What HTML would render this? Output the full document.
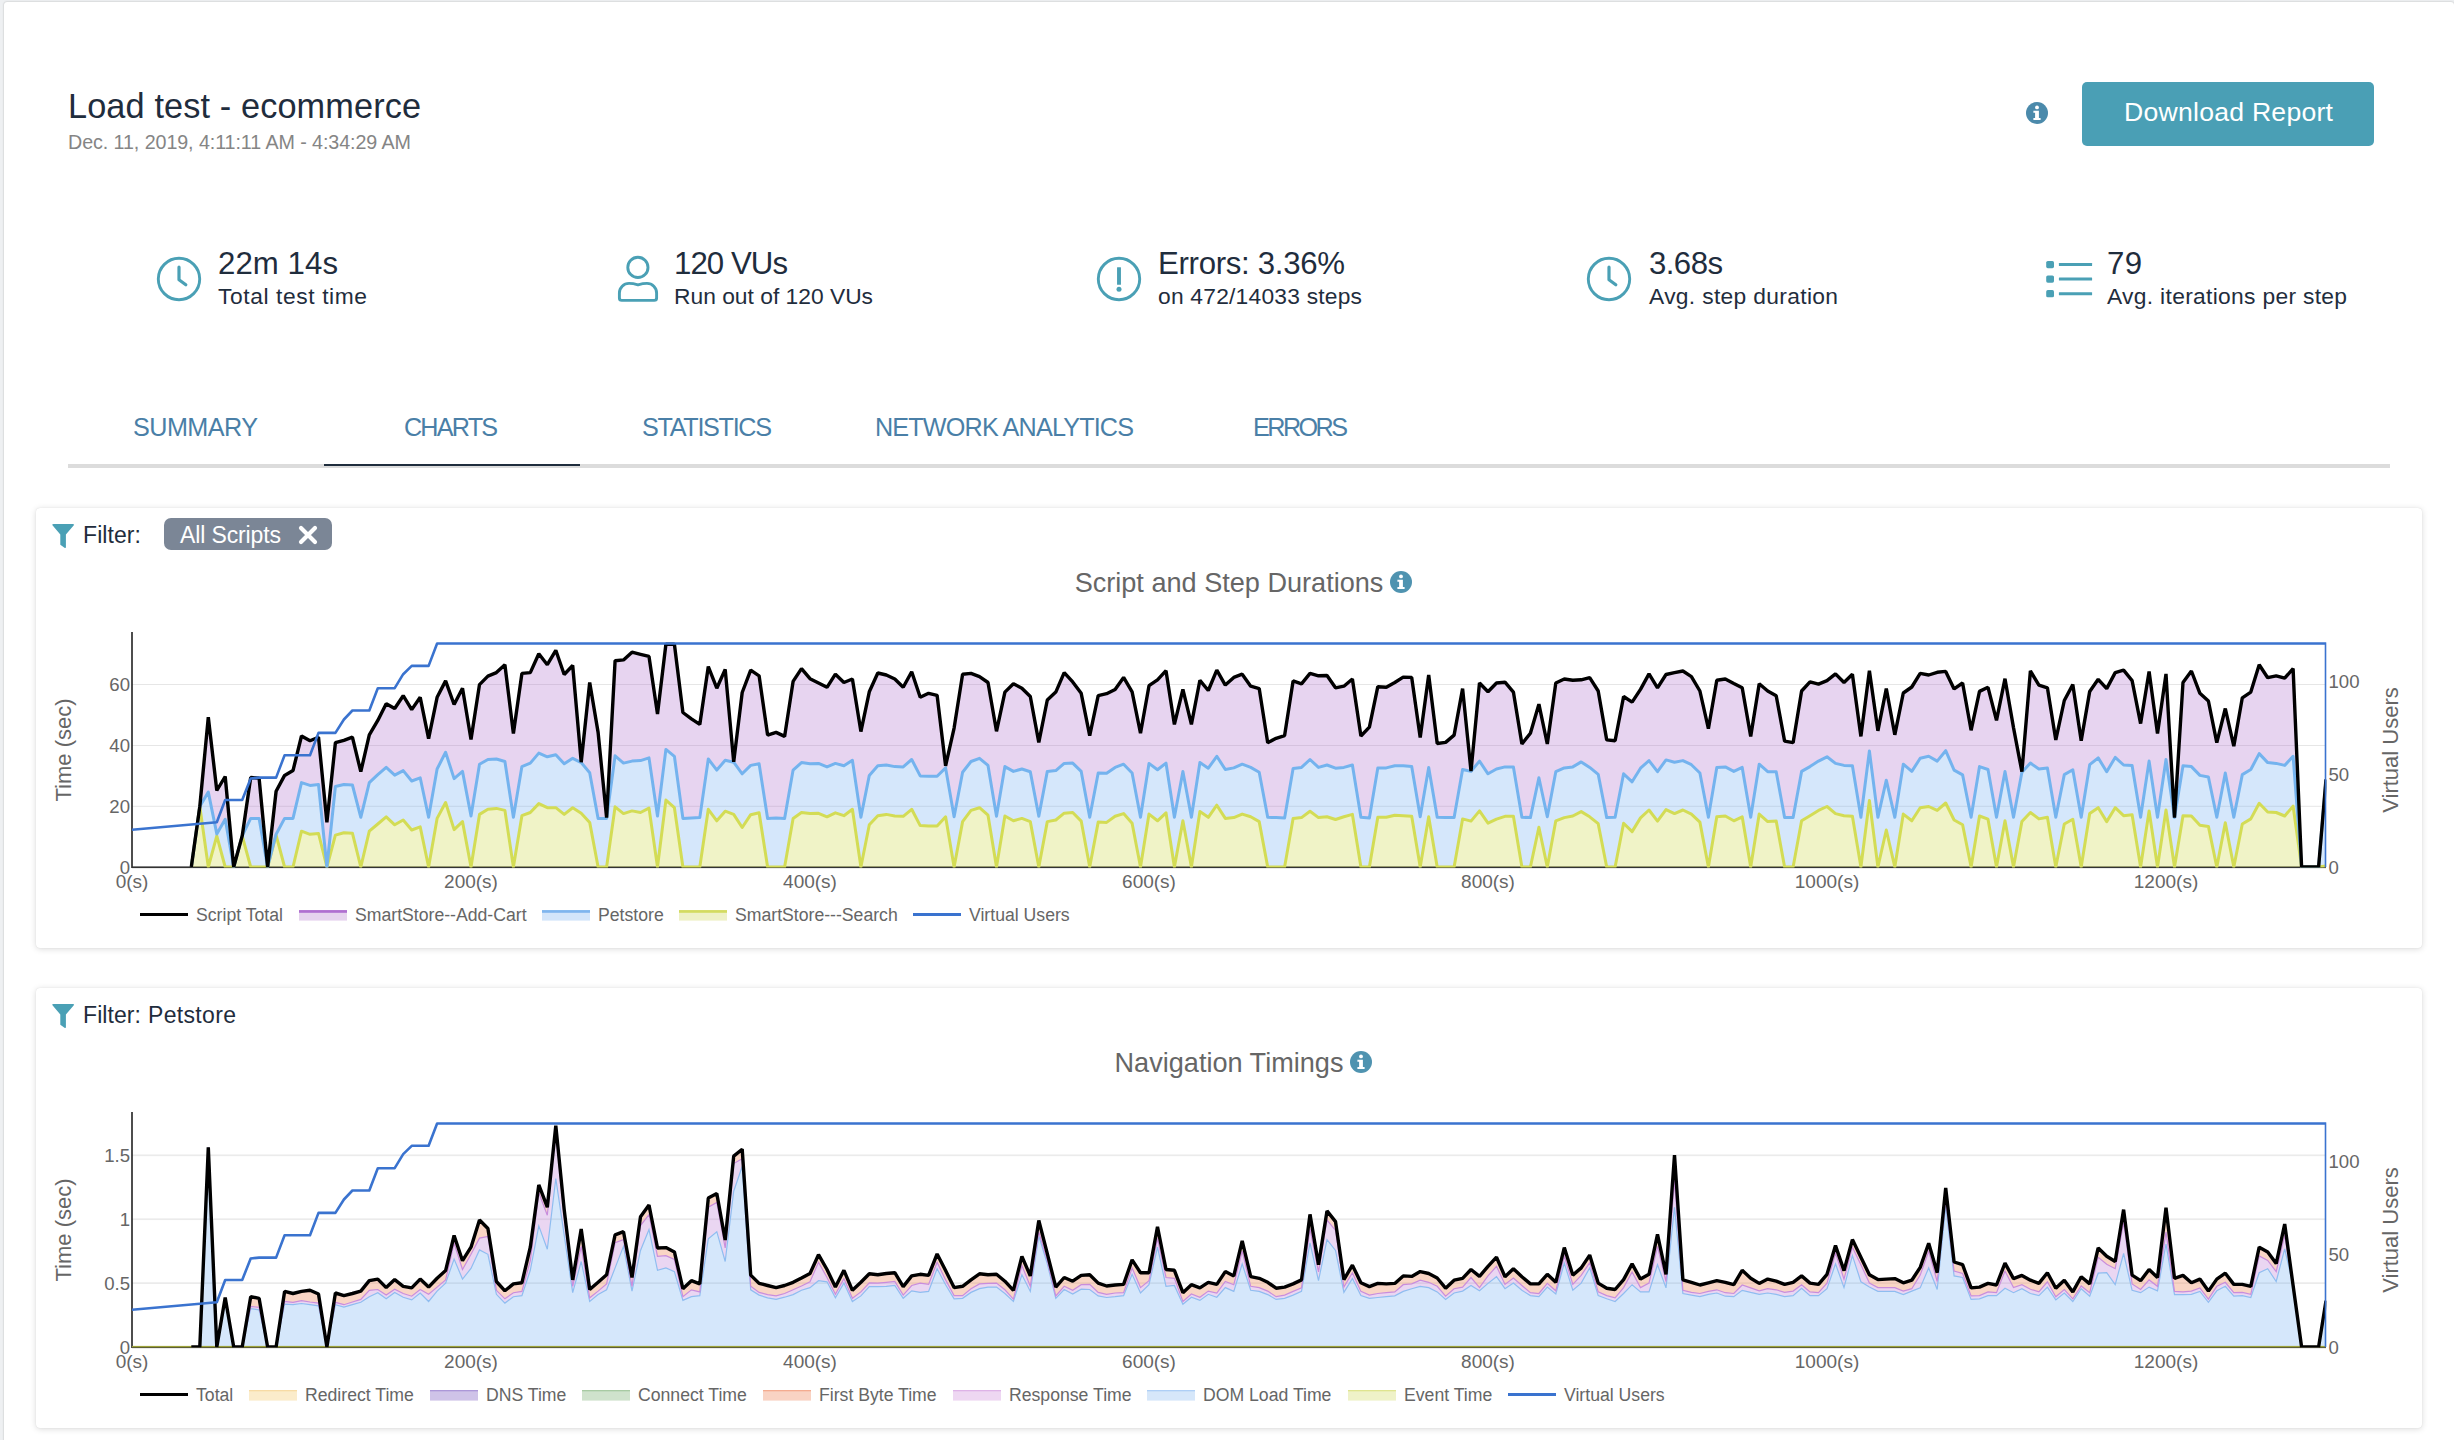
<!DOCTYPE html><html><head><meta charset="utf-8"><title>Load test - ecommerce</title><style>

html,body{margin:0;padding:0;background:#eef0f2;}
body{width:2454px;height:1440px;position:relative;overflow:hidden;font-family:"Liberation Sans",sans-serif;}
.t{position:absolute;white-space:nowrap;line-height:1;font-family:"Liberation Sans",sans-serif;}
.a{position:absolute;}
.card{position:absolute;left:36px;width:2386px;background:#fff;border-radius:4px;box-shadow:0 0 1px rgba(0,0,0,0.14),0 1px 6px rgba(0,0,0,0.15);}
.frame{position:absolute;left:4px;top:2px;right:0;bottom:-10px;background:#fff;border-radius:3px;box-shadow:0 0 2px rgba(0,0,0,0.28);}
.btn{position:absolute;left:2082px;top:82px;width:292px;height:64px;background:#4a9fb5;border-radius:5px;}
.chip{position:absolute;left:164px;top:518px;width:168px;height:32px;background:#7b8696;border-radius:7px;}
.tabline{position:absolute;left:68px;top:464px;width:2322px;height:3.5px;background:#dcdcdc;}
.tabact{position:absolute;left:324px;top:463.5px;width:256px;height:2.8px;background:#1f2d3d;}
svg text{font-family:"Liberation Sans",sans-serif;}

</style></head><body>
<div class="frame"></div>
<div id="title" class="t" style="left:68px;top:89.0px;font-size:34.3px;color:#1f2d3d;letter-spacing:0.113px;">Load test - ecommerce</div>
<div id="sub" class="t" style="left:68px;top:132.8px;font-size:19.7px;color:#858585;letter-spacing:-0.077px;">Dec. 11, 2019, 4:11:11 AM - 4:34:29 AM</div>
<svg class="a" style="left:2025px;top:101px" width="24" height="24" viewBox="-12 -12 24 24"><circle r="11" fill="#4b8aab"/><g transform="scale(1.0)" fill="#fff"><circle cx="0" cy="-5.6" r="1.9"/><path d="M-3.6 -2.2 H1.9 V5 H3.6 V7 H-3.6 V5 H-1.9 V-0.2 H-3.6 Z"/></g></svg>
<div class="btn"></div>
<div id="btn" class="t" style="left:2124px;top:98.9px;font-size:26.6px;color:#fff;letter-spacing:0.251px;">Download Report</div>
<svg class="a" style="left:153px;top:253px" width="52" height="52" viewBox="-26 -26 52 52"><circle r="20.7" fill="none" stroke="#4aa0b5" stroke-width="2.9"/><path d="M0 -11.8 V0.8 L6.8 5.8" fill="none" stroke="#4aa0b5" stroke-width="3.2" stroke-linecap="round" stroke-linejoin="round"/></svg>
<div id="sb0" class="t" style="left:218px;top:247.8px;font-size:31.2px;color:#1f2d3d;letter-spacing:0.062px;">22m 14s</div>
<div id="ss0" class="t" style="left:218px;top:285.4px;font-size:22.8px;color:#1f2d3d;letter-spacing:0.597px;">Total test time</div>
<svg class="a" style="left:611px;top:253px" width="52" height="52" viewBox="-26 -26 52 52"><circle cx="0.9" cy="-11.6" r="10.1" fill="none" stroke="#4aa0b5" stroke-width="2.9"/><path d="M-17.6 19 V14 A9.6 9.6 0 0 1 -8 4.4 Q-4 4.4 1 5.8 Q6 4.4 10 4.4 A9.6 9.6 0 0 1 19.6 14 V19 Q19.6 21.4 17.2 21.4 H-15.2 Q-17.6 21.4 -17.6 19 Z" fill="none" stroke="#4aa0b5" stroke-width="2.9" stroke-linejoin="round"/></svg>
<div id="sb1" class="t" style="left:674px;top:247.8px;font-size:31.2px;color:#1f2d3d;letter-spacing:-0.938px;">120 VUs</div>
<div id="ss1" class="t" style="left:674px;top:285.4px;font-size:22.8px;color:#1f2d3d;letter-spacing:0.002px;">Run out of 120 VUs</div>
<svg class="a" style="left:1093px;top:253px" width="52" height="52" viewBox="-26 -26 52 52"><circle r="20.7" fill="none" stroke="#4aa0b5" stroke-width="2.9"/><rect x="-1.95" y="-11.8" width="3.9" height="17.6" rx="0.4" fill="#4aa0b5"/><circle cx="0" cy="10.2" r="2.5" fill="#4aa0b5"/></svg>
<div id="sb2" class="t" style="left:1158px;top:247.8px;font-size:31.2px;color:#1f2d3d;letter-spacing:-0.306px;">Errors: 3.36%</div>
<div id="ss2" class="t" style="left:1158px;top:285.4px;font-size:22.8px;color:#1f2d3d;letter-spacing:0.219px;">on 472/14033 steps</div>
<svg class="a" style="left:1583px;top:253px" width="52" height="52" viewBox="-26 -26 52 52"><circle r="20.7" fill="none" stroke="#4aa0b5" stroke-width="2.9"/><path d="M0 -11.8 V0.8 L6.8 5.8" fill="none" stroke="#4aa0b5" stroke-width="3.2" stroke-linecap="round" stroke-linejoin="round"/></svg>
<div id="sb3" class="t" style="left:1649px;top:247.8px;font-size:31.2px;color:#1f2d3d;letter-spacing:-0.574px;">3.68s</div>
<div id="ss3" class="t" style="left:1649px;top:285.4px;font-size:22.8px;color:#1f2d3d;letter-spacing:0.333px;">Avg. step duration</div>
<svg class="a" style="left:2043px;top:253px" width="52" height="52" viewBox="-26 -26 52 52"><rect x="-22.8" y="-18.0" width="7.8" height="7.2" rx="1.6" fill="#4aa0b5"/><rect x="-10.1" y="-15.9" width="33.2" height="3" rx="0.5" fill="#4aa0b5"/><rect x="-22.8" y="-3.5" width="7.8" height="7.2" rx="1.6" fill="#4aa0b5"/><rect x="-10.1" y="-1.4" width="33.2" height="3" rx="0.5" fill="#4aa0b5"/><rect x="-22.8" y="11.1" width="7.8" height="7.2" rx="1.6" fill="#4aa0b5"/><rect x="-10.1" y="13.2" width="33.2" height="3" rx="0.5" fill="#4aa0b5"/></svg>
<div id="sb4" class="t" style="left:2107px;top:247.8px;font-size:31.2px;color:#1f2d3d;letter-spacing:0.297px;">79</div>
<div id="ss4" class="t" style="left:2107px;top:285.4px;font-size:22.8px;color:#1f2d3d;letter-spacing:0.315px;">Avg. iterations per step</div>
<div id="tab0" class="t" style="left:133px;top:415.1px;font-size:25.2px;color:#4a7fa7;letter-spacing:-0.549px;">SUMMARY</div>
<div id="tab1" class="t" style="left:404px;top:415.1px;font-size:25.2px;color:#4a7fa7;letter-spacing:-1.822px;">CHARTS</div>
<div id="tab2" class="t" style="left:642px;top:415.1px;font-size:25.2px;color:#4a7fa7;letter-spacing:-1.312px;">STATISTICS</div>
<div id="tab3" class="t" style="left:875px;top:415.1px;font-size:25.2px;color:#4a7fa7;letter-spacing:-0.840px;">NETWORK ANALYTICS</div>
<div id="tab4" class="t" style="left:1253px;top:415.1px;font-size:25.2px;color:#4a7fa7;letter-spacing:-2.553px;">ERRORS</div>
<div class="tabline"></div><div class="tabact"></div>
<div class="card" style="top:508px;height:440px"></div>
<div class="card" style="top:988px;height:440px"></div>
<svg class="a" style="left:51.9px;top:523.8px;overflow:visible" width="24" height="26" viewBox="0 0 24 26"><path d="M1.5 0 H20.8 Q22.9 0 21.6 1.6 L13.9 10.4 V23 Q13.9 24.7 12.5 23.7 L8.3 20.8 V10.4 L0.7 1.6 Q-0.6 0 1.5 0 Z" fill="#4aa0b5"/></svg>
<div id="f1" class="t" style="left:83px;top:523.5px;font-size:23px;color:#1f2d3d;letter-spacing:0.083px;">Filter:</div>
<div class="chip"></div>
<div id="chip" class="t" style="left:180px;top:523.5px;font-size:23px;color:#fff;letter-spacing:-0.125px;">All Scripts</div>
<svg class="a" style="left:297px;top:524px" width="22" height="22" viewBox="-11 -11 22 22"><path d="M-7 -7 L7 7 M7 -7 L-7 7" stroke="#fff" stroke-width="4.2" stroke-linecap="round"/></svg>
<svg class="a" style="left:51.9px;top:1003.8px;overflow:visible" width="24" height="26" viewBox="0 0 24 26"><path d="M1.5 0 H20.8 Q22.9 0 21.6 1.6 L13.9 10.4 V23 Q13.9 24.7 12.5 23.7 L8.3 20.8 V10.4 L0.7 1.6 Q-0.6 0 1.5 0 Z" fill="#4aa0b5"/></svg>
<div id="f2" class="t" style="left:83px;top:1003.5px;font-size:23px;color:#1f2d3d;letter-spacing:0.083px;">Filter:</div>
<div id="f2b" class="t" style="left:148px;top:1003.5px;font-size:23px;color:#1f2d3d;letter-spacing:0.335px;">Petstore</div>
<svg class="a" style="left:0;top:500px" width="2454" height="460" viewBox="0 500 2454 460"><text x="1229" y="592" font-size="27.1" fill="#666" text-anchor="middle">Script and Step Durations</text><rect x="132.0" y="684.0" width="2194.0" height="1.0" fill="#e6e6e6"/><rect x="132.0" y="745.0" width="2194.0" height="1.0" fill="#e6e6e6"/><rect x="132.0" y="805.8" width="2194.0" height="1.0" fill="#e6e6e6"/><rect x="131.2" y="632" width="1.6" height="236.0" fill="#222"/><rect x="132.0" y="866.4" width="2194.0" height="1.7" fill="#333"/><clipPath id="cp1"><rect x="132.0" y="620" width="2194.3" height="247.60000000000002"/></clipPath><g clip-path="url(#cp1)"><polygon points="191.3,867.0 199.8,806.5 208.3,717.2 216.8,790.5 225.2,776.5 233.7,867.0 242.2,835.9 250.7,777.5 259.1,778.1 267.6,867.0 276.1,791.3 284.6,775.4 293.0,770.6 301.5,736.0 310.0,740.8 318.5,737.2 326.9,822.4 335.4,742.7 343.9,740.3 352.4,737.2 360.8,771.7 369.3,734.8 377.8,720.4 386.2,703.7 394.7,708.5 403.2,695.7 411.7,709.6 420.2,697.3 428.6,738.7 437.1,697.3 445.6,680.9 454.1,704.5 462.5,688.2 471.0,739.5 479.5,684.6 487.9,676.1 496.4,672.6 504.9,664.7 513.4,733.5 521.9,673.4 530.3,672.6 538.8,653.8 547.3,664.7 555.8,650.3 564.2,674.5 572.7,665.5 581.2,762.2 589.7,682.5 598.1,732.4 606.6,817.6 615.1,660.7 623.5,659.9 632.0,652.2 640.5,654.3 649.0,656.4 657.5,714.1 665.9,644.3 674.4,644.3 682.9,712.5 691.4,718.8 699.8,724.4 708.3,666.6 716.8,688.2 725.2,669.4 733.7,761.9 742.2,692.5 750.7,670.2 759.1,675.8 767.6,735.1 776.1,732.4 784.6,736.4 793.1,681.4 801.5,668.6 810.0,678.7 818.5,683.0 827.0,687.3 835.4,674.2 843.9,682.5 852.4,679.0 860.9,731.6 869.3,691.8 877.8,673.0 886.3,675.0 894.8,679.0 903.2,687.3 911.7,671.8 920.2,697.3 928.6,693.3 937.1,695.3 945.6,765.8 954.1,728.1 962.6,674.2 971.0,673.4 979.5,676.6 988.0,682.5 996.5,731.3 1004.9,692.1 1013.4,683.8 1021.9,688.2 1030.3,696.5 1038.8,742.4 1047.3,700.0 1055.8,692.1 1064.2,672.6 1072.7,681.9 1081.2,693.3 1089.7,735.6 1098.2,695.7 1106.6,693.7 1115.1,689.4 1123.6,677.4 1132.1,691.8 1140.5,733.2 1149.0,685.7 1157.5,679.8 1166.0,670.7 1174.4,724.4 1182.9,689.4 1191.4,724.4 1199.9,680.3 1208.3,690.5 1216.8,670.2 1225.3,685.1 1233.8,677.4 1242.2,674.2 1250.7,686.2 1259.2,688.6 1267.7,742.7 1276.1,738.3 1284.6,735.6 1293.1,680.9 1301.5,683.8 1310.0,673.4 1318.5,675.8 1327.0,675.5 1335.5,687.8 1343.9,686.2 1352.4,679.0 1360.9,736.0 1369.4,727.1 1377.8,686.7 1386.3,687.3 1394.8,682.5 1403.2,677.1 1411.7,677.4 1420.2,737.6 1428.7,675.0 1437.2,743.5 1445.6,742.4 1454.1,735.1 1462.6,688.6 1471.0,771.1 1479.5,683.0 1488.0,691.8 1496.5,683.0 1505.0,682.2 1513.4,692.1 1521.9,744.0 1530.4,733.2 1538.9,704.2 1547.3,744.0 1555.8,683.0 1564.3,679.0 1572.8,680.3 1581.2,679.8 1589.7,677.7 1598.2,691.0 1606.7,739.9 1615.1,740.8 1623.6,696.5 1632.1,702.1 1640.5,689.4 1649.0,673.9 1657.5,687.8 1666.0,674.5 1674.5,672.6 1682.9,671.0 1691.4,676.6 1699.9,691.0 1708.4,728.7 1716.8,680.3 1725.3,679.0 1733.8,683.5 1742.2,687.8 1750.7,736.4 1759.2,683.8 1767.7,691.0 1776.2,695.7 1784.6,741.1 1793.1,742.7 1801.6,691.0 1810.0,681.9 1818.5,684.1 1827.0,680.6 1835.5,673.9 1844.0,682.5 1852.4,674.2 1860.9,736.4 1869.4,670.7 1877.9,730.8 1886.3,688.6 1894.8,734.8 1903.3,693.0 1911.8,687.0 1920.2,673.4 1928.7,675.0 1937.2,672.3 1945.7,671.4 1954.1,688.9 1962.6,683.0 1971.1,730.3 1979.5,691.4 1988.0,687.3 1996.5,720.4 2005.0,678.7 2013.5,727.6 2021.9,771.7 2030.4,671.0 2038.9,685.1 2047.4,687.8 2055.8,739.9 2064.3,700.5 2072.8,684.6 2081.2,740.8 2089.7,691.4 2098.2,679.3 2106.7,688.6 2115.2,672.6 2123.6,670.2 2132.1,680.6 2140.6,723.6 2149.1,671.4 2157.5,733.5 2166.0,673.9 2174.5,817.6 2183.0,682.5 2191.4,671.0 2199.9,693.3 2208.4,701.0 2216.8,742.7 2225.3,708.5 2233.8,746.2 2242.3,697.8 2250.8,692.1 2259.2,664.7 2267.7,677.7 2276.2,675.8 2284.7,678.2 2293.1,668.6 2301.6,867.0 2310.1,867.0 2318.6,867.0 2326.0,779.4 2326.0,779.7 2318.6,867.0 2310.1,867.0 2301.6,867.0 2293.1,756.3 2284.7,765.4 2276.2,763.4 2267.7,762.6 2259.2,753.6 2250.8,769.5 2242.3,774.6 2233.8,817.3 2225.3,773.0 2216.8,817.3 2208.4,777.0 2199.9,775.4 2191.4,766.6 2183.0,765.8 2174.5,817.6 2166.0,759.5 2157.5,817.3 2149.1,761.1 2140.6,817.3 2132.1,765.4 2123.6,765.0 2115.2,757.4 2106.7,771.7 2098.2,757.9 2089.7,764.7 2081.2,817.3 2072.8,769.8 2064.3,774.6 2055.8,817.3 2047.4,767.9 2038.9,769.0 2030.4,763.1 2021.9,772.2 2013.5,817.3 2005.0,771.4 1996.5,817.3 1988.0,769.5 1979.5,766.6 1971.1,817.3 1962.6,774.9 1954.1,770.1 1945.7,750.7 1937.2,761.1 1928.7,756.3 1920.2,758.3 1911.8,771.4 1903.3,764.2 1894.8,817.3 1886.3,780.2 1877.9,817.3 1869.4,751.0 1860.9,817.3 1852.4,765.8 1844.0,765.4 1835.5,763.4 1827.0,756.8 1818.5,761.1 1810.0,766.6 1801.6,771.4 1793.1,817.6 1784.6,817.6 1776.2,771.7 1767.7,771.7 1759.2,764.2 1750.7,817.3 1742.2,767.4 1733.8,771.4 1725.3,766.9 1716.8,767.4 1708.4,817.3 1699.9,773.0 1691.4,764.7 1682.9,760.6 1674.5,762.2 1666.0,759.9 1657.5,771.7 1649.0,760.6 1640.5,768.2 1632.1,781.8 1623.6,773.8 1615.1,817.3 1606.7,817.6 1598.2,774.3 1589.7,767.4 1581.2,761.9 1572.8,766.9 1564.3,767.9 1555.8,771.7 1547.3,816.8 1538.9,777.8 1530.4,817.6 1521.9,817.3 1513.4,766.9 1505.0,766.9 1496.5,769.0 1488.0,773.8 1479.5,761.1 1471.0,771.4 1462.6,769.5 1454.1,817.6 1445.6,817.6 1437.2,817.3 1428.7,767.4 1420.2,816.8 1411.7,766.6 1403.2,765.8 1394.8,765.8 1386.3,767.9 1377.8,767.9 1369.4,817.9 1360.9,817.3 1352.4,765.0 1343.9,767.4 1335.5,768.2 1327.0,765.0 1318.5,767.4 1310.0,759.5 1301.5,767.4 1293.1,768.5 1284.6,817.9 1276.1,817.6 1267.7,817.3 1259.2,772.2 1250.7,767.4 1242.2,764.2 1233.8,767.9 1225.3,769.5 1216.8,756.3 1208.3,768.2 1199.9,762.6 1191.4,817.3 1182.9,771.4 1174.4,817.3 1166.0,763.1 1157.5,769.8 1149.0,763.4 1140.5,817.3 1132.1,773.0 1123.6,764.2 1115.1,767.4 1106.6,773.3 1098.2,773.0 1089.7,817.3 1081.2,771.4 1072.7,763.1 1064.2,763.4 1055.8,770.6 1047.3,771.4 1038.8,816.3 1030.3,771.7 1021.9,769.0 1013.4,771.4 1004.9,766.6 996.5,816.3 988.0,765.4 979.5,758.3 971.0,761.5 962.6,772.2 954.1,816.8 945.6,767.9 937.1,776.2 928.6,776.2 920.2,775.9 911.7,759.5 903.2,766.9 894.8,766.6 886.3,765.0 877.8,765.8 869.3,775.4 860.9,817.3 852.4,760.3 843.9,765.8 835.4,763.4 827.0,766.9 818.5,763.4 810.0,763.8 801.5,762.6 793.1,770.1 784.6,818.4 776.1,817.9 767.6,818.4 759.1,763.8 750.7,765.4 742.2,773.8 733.7,762.2 725.2,760.3 716.8,770.1 708.3,759.0 699.8,817.6 691.4,817.9 682.9,818.4 674.4,756.3 665.9,749.4 657.5,816.0 649.0,757.9 640.5,760.6 632.0,761.1 623.5,763.1 615.1,755.8 606.6,818.4 598.1,818.4 589.7,772.7 581.2,762.6 572.7,758.3 564.2,763.8 555.8,754.7 547.3,756.8 538.8,753.1 530.3,763.1 521.9,766.6 513.4,817.3 504.9,761.5 496.4,759.0 487.9,759.5 479.5,764.2 471.0,816.0 462.5,771.4 454.1,778.6 445.6,752.3 437.1,769.0 428.6,817.3 420.2,777.8 411.7,781.0 403.2,770.6 394.7,775.1 386.2,767.4 377.8,774.6 369.3,782.6 360.8,817.3 352.4,785.0 343.9,784.5 335.4,786.5 326.9,867.0 318.5,784.6 310.0,785.4 301.5,782.6 293.0,818.4 284.6,818.4 276.1,834.2 267.6,867.0 259.1,818.4 250.7,818.4 242.2,835.9 233.7,867.0 225.2,819.2 216.8,833.9 208.3,792.1 199.8,806.5 191.3,867.0" fill="rgba(170,100,200,0.28)"/><polygon points="191.3,867.0 199.8,806.5 208.3,792.1 216.8,833.9 225.2,819.2 233.7,867.0 242.2,835.9 250.7,818.4 259.1,818.4 267.6,867.0 276.1,834.2 284.6,818.4 293.0,818.4 301.5,782.6 310.0,785.4 318.5,784.6 326.9,867.0 335.4,786.5 343.9,784.5 352.4,785.0 360.8,817.3 369.3,782.6 377.8,774.6 386.2,767.4 394.7,775.1 403.2,770.6 411.7,781.0 420.2,777.8 428.6,817.3 437.1,769.0 445.6,752.3 454.1,778.6 462.5,771.4 471.0,816.0 479.5,764.2 487.9,759.5 496.4,759.0 504.9,761.5 513.4,817.3 521.9,766.6 530.3,763.1 538.8,753.1 547.3,756.8 555.8,754.7 564.2,763.8 572.7,758.3 581.2,762.6 589.7,772.7 598.1,818.4 606.6,818.4 615.1,755.8 623.5,763.1 632.0,761.1 640.5,760.6 649.0,757.9 657.5,816.0 665.9,749.4 674.4,756.3 682.9,818.4 691.4,817.9 699.8,817.6 708.3,759.0 716.8,770.1 725.2,760.3 733.7,762.2 742.2,773.8 750.7,765.4 759.1,763.8 767.6,818.4 776.1,817.9 784.6,818.4 793.1,770.1 801.5,762.6 810.0,763.8 818.5,763.4 827.0,766.9 835.4,763.4 843.9,765.8 852.4,760.3 860.9,817.3 869.3,775.4 877.8,765.8 886.3,765.0 894.8,766.6 903.2,766.9 911.7,759.5 920.2,775.9 928.6,776.2 937.1,776.2 945.6,767.9 954.1,816.8 962.6,772.2 971.0,761.5 979.5,758.3 988.0,765.4 996.5,816.3 1004.9,766.6 1013.4,771.4 1021.9,769.0 1030.3,771.7 1038.8,816.3 1047.3,771.4 1055.8,770.6 1064.2,763.4 1072.7,763.1 1081.2,771.4 1089.7,817.3 1098.2,773.0 1106.6,773.3 1115.1,767.4 1123.6,764.2 1132.1,773.0 1140.5,817.3 1149.0,763.4 1157.5,769.8 1166.0,763.1 1174.4,817.3 1182.9,771.4 1191.4,817.3 1199.9,762.6 1208.3,768.2 1216.8,756.3 1225.3,769.5 1233.8,767.9 1242.2,764.2 1250.7,767.4 1259.2,772.2 1267.7,817.3 1276.1,817.6 1284.6,817.9 1293.1,768.5 1301.5,767.4 1310.0,759.5 1318.5,767.4 1327.0,765.0 1335.5,768.2 1343.9,767.4 1352.4,765.0 1360.9,817.3 1369.4,817.9 1377.8,767.9 1386.3,767.9 1394.8,765.8 1403.2,765.8 1411.7,766.6 1420.2,816.8 1428.7,767.4 1437.2,817.3 1445.6,817.6 1454.1,817.6 1462.6,769.5 1471.0,771.4 1479.5,761.1 1488.0,773.8 1496.5,769.0 1505.0,766.9 1513.4,766.9 1521.9,817.3 1530.4,817.6 1538.9,777.8 1547.3,816.8 1555.8,771.7 1564.3,767.9 1572.8,766.9 1581.2,761.9 1589.7,767.4 1598.2,774.3 1606.7,817.6 1615.1,817.3 1623.6,773.8 1632.1,781.8 1640.5,768.2 1649.0,760.6 1657.5,771.7 1666.0,759.9 1674.5,762.2 1682.9,760.6 1691.4,764.7 1699.9,773.0 1708.4,817.3 1716.8,767.4 1725.3,766.9 1733.8,771.4 1742.2,767.4 1750.7,817.3 1759.2,764.2 1767.7,771.7 1776.2,771.7 1784.6,817.6 1793.1,817.6 1801.6,771.4 1810.0,766.6 1818.5,761.1 1827.0,756.8 1835.5,763.4 1844.0,765.4 1852.4,765.8 1860.9,817.3 1869.4,751.0 1877.9,817.3 1886.3,780.2 1894.8,817.3 1903.3,764.2 1911.8,771.4 1920.2,758.3 1928.7,756.3 1937.2,761.1 1945.7,750.7 1954.1,770.1 1962.6,774.9 1971.1,817.3 1979.5,766.6 1988.0,769.5 1996.5,817.3 2005.0,771.4 2013.5,817.3 2021.9,772.2 2030.4,763.1 2038.9,769.0 2047.4,767.9 2055.8,817.3 2064.3,774.6 2072.8,769.8 2081.2,817.3 2089.7,764.7 2098.2,757.9 2106.7,771.7 2115.2,757.4 2123.6,765.0 2132.1,765.4 2140.6,817.3 2149.1,761.1 2157.5,817.3 2166.0,759.5 2174.5,817.6 2183.0,765.8 2191.4,766.6 2199.9,775.4 2208.4,777.0 2216.8,817.3 2225.3,773.0 2233.8,817.3 2242.3,774.6 2250.8,769.5 2259.2,753.6 2267.7,762.6 2276.2,763.4 2284.7,765.4 2293.1,756.3 2301.6,867.0 2310.1,867.0 2318.6,867.0 2326.0,779.7 2326.0,866.0 2318.6,867.0 2310.1,867.0 2301.6,867.0 2293.1,806.1 2284.7,816.0 2276.2,812.5 2267.7,812.0 2259.2,803.3 2250.8,818.9 2242.3,824.0 2233.8,867.0 2225.3,822.7 2216.8,867.0 2208.4,826.4 2199.9,825.3 2191.4,816.0 2183.0,815.7 2174.5,867.0 2166.0,810.0 2157.5,867.0 2149.1,810.9 2140.6,867.0 2132.1,814.7 2123.6,815.7 2115.2,807.7 2106.7,821.6 2098.2,807.7 2089.7,813.6 2081.2,867.0 2072.8,819.2 2064.3,824.0 2055.8,867.0 2047.4,817.3 2038.9,818.9 2030.4,812.5 2021.9,821.6 2013.5,867.0 2005.0,820.8 1996.5,867.0 1988.0,819.2 1979.5,816.0 1971.1,867.0 1962.6,824.8 1954.1,820.0 1945.7,803.0 1937.2,810.4 1928.7,806.5 1920.2,807.7 1911.8,820.8 1903.3,814.1 1894.8,867.0 1886.3,830.0 1877.9,867.0 1869.4,800.4 1860.9,867.0 1852.4,816.3 1844.0,815.7 1835.5,813.6 1827.0,806.5 1818.5,810.4 1810.0,815.7 1801.6,820.8 1793.1,867.0 1784.6,867.0 1776.2,821.1 1767.7,821.6 1759.2,814.1 1750.7,867.0 1742.2,816.8 1733.8,820.8 1725.3,816.0 1716.8,816.8 1708.4,867.0 1699.9,822.1 1691.4,814.1 1682.9,810.0 1674.5,813.6 1666.0,809.6 1657.5,821.1 1649.0,810.0 1640.5,817.9 1632.1,831.6 1623.6,823.2 1615.1,867.0 1606.7,867.0 1598.2,823.7 1589.7,816.8 1581.2,811.6 1572.8,816.0 1564.3,817.6 1555.8,820.8 1547.3,867.0 1538.9,827.2 1530.4,867.0 1521.9,867.0 1513.4,816.3 1505.0,816.3 1496.5,819.2 1488.0,823.2 1479.5,810.9 1471.0,821.1 1462.6,818.9 1454.1,867.0 1445.6,867.0 1437.2,867.0 1428.7,816.8 1420.2,867.0 1411.7,816.3 1403.2,815.7 1394.8,815.2 1386.3,817.3 1377.8,817.3 1369.4,867.0 1360.9,867.0 1352.4,814.4 1343.9,816.8 1335.5,819.5 1327.0,816.8 1318.5,817.6 1310.0,811.2 1301.5,817.6 1293.1,818.4 1284.6,867.0 1276.1,867.0 1267.7,867.0 1259.2,821.6 1250.7,816.8 1242.2,814.1 1233.8,817.6 1225.3,818.4 1216.8,805.2 1208.3,817.3 1199.9,811.6 1191.4,867.0 1182.9,820.8 1174.4,867.0 1166.0,812.8 1157.5,820.8 1149.0,814.1 1140.5,867.0 1132.1,823.2 1123.6,813.6 1115.1,816.3 1106.6,822.4 1098.2,822.1 1089.7,867.0 1081.2,821.1 1072.7,812.5 1064.2,813.2 1055.8,820.0 1047.3,821.6 1038.8,867.0 1030.3,821.6 1021.9,818.4 1013.4,820.8 1004.9,816.0 996.5,867.0 988.0,815.2 979.5,807.7 971.0,810.4 962.6,821.6 954.1,867.0 945.6,816.8 937.1,825.9 928.6,825.9 920.2,825.6 911.7,809.3 903.2,816.3 894.8,816.0 886.3,814.4 877.8,815.7 869.3,824.8 860.9,867.0 852.4,809.3 843.9,815.7 835.4,812.8 827.0,816.8 818.5,813.3 810.0,813.6 801.5,812.5 793.1,818.4 784.6,867.0 776.1,867.0 767.6,867.0 759.1,812.8 750.7,814.7 742.2,827.5 733.7,814.4 725.2,811.2 716.8,820.8 708.3,809.3 699.8,867.0 691.4,867.0 682.9,867.0 674.4,807.7 665.9,800.1 657.5,867.0 649.0,808.1 640.5,812.5 632.0,810.9 623.5,813.6 615.1,806.8 606.6,867.0 598.1,867.0 589.7,822.4 581.2,813.2 572.7,807.7 564.2,814.4 555.8,807.7 547.3,807.7 538.8,803.6 530.3,812.5 521.9,815.7 513.4,867.0 504.9,810.4 496.4,808.4 487.9,809.3 479.5,814.4 471.0,867.0 462.5,821.6 454.1,829.6 445.6,802.5 437.1,818.4 428.6,867.0 420.2,826.9 411.7,830.0 403.2,820.0 394.7,824.8 386.2,816.8 377.8,824.0 369.3,831.2 360.8,867.0 352.4,833.2 343.9,832.7 335.4,835.1 326.9,867.0 318.5,833.5 310.0,834.3 301.5,831.2 293.0,867.0 284.6,867.0 276.1,835.1 267.6,867.0 259.1,867.0 250.7,867.0 242.2,835.9 233.7,867.0 225.2,867.0 216.8,835.9 208.3,867.0 199.8,806.5 191.3,867.0" fill="rgba(100,165,240,0.27)"/><polygon points="191.3,867.0 199.8,806.5 208.3,867.0 216.8,835.9 225.2,867.0 233.7,867.0 242.2,835.9 250.7,867.0 259.1,867.0 267.6,867.0 276.1,835.1 284.6,867.0 293.0,867.0 301.5,831.2 310.0,834.3 318.5,833.5 326.9,867.0 335.4,835.1 343.9,832.7 352.4,833.2 360.8,867.0 369.3,831.2 377.8,824.0 386.2,816.8 394.7,824.8 403.2,820.0 411.7,830.0 420.2,826.9 428.6,867.0 437.1,818.4 445.6,802.5 454.1,829.6 462.5,821.6 471.0,867.0 479.5,814.4 487.9,809.3 496.4,808.4 504.9,810.4 513.4,867.0 521.9,815.7 530.3,812.5 538.8,803.6 547.3,807.7 555.8,807.7 564.2,814.4 572.7,807.7 581.2,813.2 589.7,822.4 598.1,867.0 606.6,867.0 615.1,806.8 623.5,813.6 632.0,810.9 640.5,812.5 649.0,808.1 657.5,867.0 665.9,800.1 674.4,807.7 682.9,867.0 691.4,867.0 699.8,867.0 708.3,809.3 716.8,820.8 725.2,811.2 733.7,814.4 742.2,827.5 750.7,814.7 759.1,812.8 767.6,867.0 776.1,867.0 784.6,867.0 793.1,818.4 801.5,812.5 810.0,813.6 818.5,813.3 827.0,816.8 835.4,812.8 843.9,815.7 852.4,809.3 860.9,867.0 869.3,824.8 877.8,815.7 886.3,814.4 894.8,816.0 903.2,816.3 911.7,809.3 920.2,825.6 928.6,825.9 937.1,825.9 945.6,816.8 954.1,867.0 962.6,821.6 971.0,810.4 979.5,807.7 988.0,815.2 996.5,867.0 1004.9,816.0 1013.4,820.8 1021.9,818.4 1030.3,821.6 1038.8,867.0 1047.3,821.6 1055.8,820.0 1064.2,813.2 1072.7,812.5 1081.2,821.1 1089.7,867.0 1098.2,822.1 1106.6,822.4 1115.1,816.3 1123.6,813.6 1132.1,823.2 1140.5,867.0 1149.0,814.1 1157.5,820.8 1166.0,812.8 1174.4,867.0 1182.9,820.8 1191.4,867.0 1199.9,811.6 1208.3,817.3 1216.8,805.2 1225.3,818.4 1233.8,817.6 1242.2,814.1 1250.7,816.8 1259.2,821.6 1267.7,867.0 1276.1,867.0 1284.6,867.0 1293.1,818.4 1301.5,817.6 1310.0,811.2 1318.5,817.6 1327.0,816.8 1335.5,819.5 1343.9,816.8 1352.4,814.4 1360.9,867.0 1369.4,867.0 1377.8,817.3 1386.3,817.3 1394.8,815.2 1403.2,815.7 1411.7,816.3 1420.2,867.0 1428.7,816.8 1437.2,867.0 1445.6,867.0 1454.1,867.0 1462.6,818.9 1471.0,821.1 1479.5,810.9 1488.0,823.2 1496.5,819.2 1505.0,816.3 1513.4,816.3 1521.9,867.0 1530.4,867.0 1538.9,827.2 1547.3,867.0 1555.8,820.8 1564.3,817.6 1572.8,816.0 1581.2,811.6 1589.7,816.8 1598.2,823.7 1606.7,867.0 1615.1,867.0 1623.6,823.2 1632.1,831.6 1640.5,817.9 1649.0,810.0 1657.5,821.1 1666.0,809.6 1674.5,813.6 1682.9,810.0 1691.4,814.1 1699.9,822.1 1708.4,867.0 1716.8,816.8 1725.3,816.0 1733.8,820.8 1742.2,816.8 1750.7,867.0 1759.2,814.1 1767.7,821.6 1776.2,821.1 1784.6,867.0 1793.1,867.0 1801.6,820.8 1810.0,815.7 1818.5,810.4 1827.0,806.5 1835.5,813.6 1844.0,815.7 1852.4,816.3 1860.9,867.0 1869.4,800.4 1877.9,867.0 1886.3,830.0 1894.8,867.0 1903.3,814.1 1911.8,820.8 1920.2,807.7 1928.7,806.5 1937.2,810.4 1945.7,803.0 1954.1,820.0 1962.6,824.8 1971.1,867.0 1979.5,816.0 1988.0,819.2 1996.5,867.0 2005.0,820.8 2013.5,867.0 2021.9,821.6 2030.4,812.5 2038.9,818.9 2047.4,817.3 2055.8,867.0 2064.3,824.0 2072.8,819.2 2081.2,867.0 2089.7,813.6 2098.2,807.7 2106.7,821.6 2115.2,807.7 2123.6,815.7 2132.1,814.7 2140.6,867.0 2149.1,810.9 2157.5,867.0 2166.0,810.0 2174.5,867.0 2183.0,815.7 2191.4,816.0 2199.9,825.3 2208.4,826.4 2216.8,867.0 2225.3,822.7 2233.8,867.0 2242.3,824.0 2250.8,818.9 2259.2,803.3 2267.7,812.0 2276.2,812.5 2284.7,816.0 2293.1,806.1 2301.6,867.0 2310.1,867.0 2318.6,867.0 2326.0,866.0 2326.0,867.0 2318.6,867.0 2310.1,867.0 2301.6,867.0 2293.1,867.0 2284.7,867.0 2276.2,867.0 2267.7,867.0 2259.2,867.0 2250.8,867.0 2242.3,867.0 2233.8,867.0 2225.3,867.0 2216.8,867.0 2208.4,867.0 2199.9,867.0 2191.4,867.0 2183.0,867.0 2174.5,867.0 2166.0,867.0 2157.5,867.0 2149.1,867.0 2140.6,867.0 2132.1,867.0 2123.6,867.0 2115.2,867.0 2106.7,867.0 2098.2,867.0 2089.7,867.0 2081.2,867.0 2072.8,867.0 2064.3,867.0 2055.8,867.0 2047.4,867.0 2038.9,867.0 2030.4,867.0 2021.9,867.0 2013.5,867.0 2005.0,867.0 1996.5,867.0 1988.0,867.0 1979.5,867.0 1971.1,867.0 1962.6,867.0 1954.1,867.0 1945.7,867.0 1937.2,867.0 1928.7,867.0 1920.2,867.0 1911.8,867.0 1903.3,867.0 1894.8,867.0 1886.3,867.0 1877.9,867.0 1869.4,867.0 1860.9,867.0 1852.4,867.0 1844.0,867.0 1835.5,867.0 1827.0,867.0 1818.5,867.0 1810.0,867.0 1801.6,867.0 1793.1,867.0 1784.6,867.0 1776.2,867.0 1767.7,867.0 1759.2,867.0 1750.7,867.0 1742.2,867.0 1733.8,867.0 1725.3,867.0 1716.8,867.0 1708.4,867.0 1699.9,867.0 1691.4,867.0 1682.9,867.0 1674.5,867.0 1666.0,867.0 1657.5,867.0 1649.0,867.0 1640.5,867.0 1632.1,867.0 1623.6,867.0 1615.1,867.0 1606.7,867.0 1598.2,867.0 1589.7,867.0 1581.2,867.0 1572.8,867.0 1564.3,867.0 1555.8,867.0 1547.3,867.0 1538.9,867.0 1530.4,867.0 1521.9,867.0 1513.4,867.0 1505.0,867.0 1496.5,867.0 1488.0,867.0 1479.5,867.0 1471.0,867.0 1462.6,867.0 1454.1,867.0 1445.6,867.0 1437.2,867.0 1428.7,867.0 1420.2,867.0 1411.7,867.0 1403.2,867.0 1394.8,867.0 1386.3,867.0 1377.8,867.0 1369.4,867.0 1360.9,867.0 1352.4,867.0 1343.9,867.0 1335.5,867.0 1327.0,867.0 1318.5,867.0 1310.0,867.0 1301.5,867.0 1293.1,867.0 1284.6,867.0 1276.1,867.0 1267.7,867.0 1259.2,867.0 1250.7,867.0 1242.2,867.0 1233.8,867.0 1225.3,867.0 1216.8,867.0 1208.3,867.0 1199.9,867.0 1191.4,867.0 1182.9,867.0 1174.4,867.0 1166.0,867.0 1157.5,867.0 1149.0,867.0 1140.5,867.0 1132.1,867.0 1123.6,867.0 1115.1,867.0 1106.6,867.0 1098.2,867.0 1089.7,867.0 1081.2,867.0 1072.7,867.0 1064.2,867.0 1055.8,867.0 1047.3,867.0 1038.8,867.0 1030.3,867.0 1021.9,867.0 1013.4,867.0 1004.9,867.0 996.5,867.0 988.0,867.0 979.5,867.0 971.0,867.0 962.6,867.0 954.1,867.0 945.6,867.0 937.1,867.0 928.6,867.0 920.2,867.0 911.7,867.0 903.2,867.0 894.8,867.0 886.3,867.0 877.8,867.0 869.3,867.0 860.9,867.0 852.4,867.0 843.9,867.0 835.4,867.0 827.0,867.0 818.5,867.0 810.0,867.0 801.5,867.0 793.1,867.0 784.6,867.0 776.1,867.0 767.6,867.0 759.1,867.0 750.7,867.0 742.2,867.0 733.7,867.0 725.2,867.0 716.8,867.0 708.3,867.0 699.8,867.0 691.4,867.0 682.9,867.0 674.4,867.0 665.9,867.0 657.5,867.0 649.0,867.0 640.5,867.0 632.0,867.0 623.5,867.0 615.1,867.0 606.6,867.0 598.1,867.0 589.7,867.0 581.2,867.0 572.7,867.0 564.2,867.0 555.8,867.0 547.3,867.0 538.8,867.0 530.3,867.0 521.9,867.0 513.4,867.0 504.9,867.0 496.4,867.0 487.9,867.0 479.5,867.0 471.0,867.0 462.5,867.0 454.1,867.0 445.6,867.0 437.1,867.0 428.6,867.0 420.2,867.0 411.7,867.0 403.2,867.0 394.7,867.0 386.2,867.0 377.8,867.0 369.3,867.0 360.8,867.0 352.4,867.0 343.9,867.0 335.4,867.0 326.9,867.0 318.5,867.0 310.0,867.0 301.5,867.0 293.0,867.0 284.6,867.0 276.1,867.0 267.6,867.0 259.1,867.0 250.7,867.0 242.2,867.0 233.7,867.0 225.2,867.0 216.8,867.0 208.3,867.0 199.8,867.0 191.3,867.0" fill="rgba(205,215,70,0.30)"/><polyline points="191.3,867.0 199.8,806.5 208.3,867.0 216.8,835.9 225.2,867.0 233.7,867.0 242.2,835.9 250.7,867.0 259.1,867.0 267.6,867.0 276.1,835.1 284.6,867.0 293.0,867.0 301.5,831.2 310.0,834.3 318.5,833.5 326.9,867.0 335.4,835.1 343.9,832.7 352.4,833.2 360.8,867.0 369.3,831.2 377.8,824.0 386.2,816.8 394.7,824.8 403.2,820.0 411.7,830.0 420.2,826.9 428.6,867.0 437.1,818.4 445.6,802.5 454.1,829.6 462.5,821.6 471.0,867.0 479.5,814.4 487.9,809.3 496.4,808.4 504.9,810.4 513.4,867.0 521.9,815.7 530.3,812.5 538.8,803.6 547.3,807.7 555.8,807.7 564.2,814.4 572.7,807.7 581.2,813.2 589.7,822.4 598.1,867.0 606.6,867.0 615.1,806.8 623.5,813.6 632.0,810.9 640.5,812.5 649.0,808.1 657.5,867.0 665.9,800.1 674.4,807.7 682.9,867.0 691.4,867.0 699.8,867.0 708.3,809.3 716.8,820.8 725.2,811.2 733.7,814.4 742.2,827.5 750.7,814.7 759.1,812.8 767.6,867.0 776.1,867.0 784.6,867.0 793.1,818.4 801.5,812.5 810.0,813.6 818.5,813.3 827.0,816.8 835.4,812.8 843.9,815.7 852.4,809.3 860.9,867.0 869.3,824.8 877.8,815.7 886.3,814.4 894.8,816.0 903.2,816.3 911.7,809.3 920.2,825.6 928.6,825.9 937.1,825.9 945.6,816.8 954.1,867.0 962.6,821.6 971.0,810.4 979.5,807.7 988.0,815.2 996.5,867.0 1004.9,816.0 1013.4,820.8 1021.9,818.4 1030.3,821.6 1038.8,867.0 1047.3,821.6 1055.8,820.0 1064.2,813.2 1072.7,812.5 1081.2,821.1 1089.7,867.0 1098.2,822.1 1106.6,822.4 1115.1,816.3 1123.6,813.6 1132.1,823.2 1140.5,867.0 1149.0,814.1 1157.5,820.8 1166.0,812.8 1174.4,867.0 1182.9,820.8 1191.4,867.0 1199.9,811.6 1208.3,817.3 1216.8,805.2 1225.3,818.4 1233.8,817.6 1242.2,814.1 1250.7,816.8 1259.2,821.6 1267.7,867.0 1276.1,867.0 1284.6,867.0 1293.1,818.4 1301.5,817.6 1310.0,811.2 1318.5,817.6 1327.0,816.8 1335.5,819.5 1343.9,816.8 1352.4,814.4 1360.9,867.0 1369.4,867.0 1377.8,817.3 1386.3,817.3 1394.8,815.2 1403.2,815.7 1411.7,816.3 1420.2,867.0 1428.7,816.8 1437.2,867.0 1445.6,867.0 1454.1,867.0 1462.6,818.9 1471.0,821.1 1479.5,810.9 1488.0,823.2 1496.5,819.2 1505.0,816.3 1513.4,816.3 1521.9,867.0 1530.4,867.0 1538.9,827.2 1547.3,867.0 1555.8,820.8 1564.3,817.6 1572.8,816.0 1581.2,811.6 1589.7,816.8 1598.2,823.7 1606.7,867.0 1615.1,867.0 1623.6,823.2 1632.1,831.6 1640.5,817.9 1649.0,810.0 1657.5,821.1 1666.0,809.6 1674.5,813.6 1682.9,810.0 1691.4,814.1 1699.9,822.1 1708.4,867.0 1716.8,816.8 1725.3,816.0 1733.8,820.8 1742.2,816.8 1750.7,867.0 1759.2,814.1 1767.7,821.6 1776.2,821.1 1784.6,867.0 1793.1,867.0 1801.6,820.8 1810.0,815.7 1818.5,810.4 1827.0,806.5 1835.5,813.6 1844.0,815.7 1852.4,816.3 1860.9,867.0 1869.4,800.4 1877.9,867.0 1886.3,830.0 1894.8,867.0 1903.3,814.1 1911.8,820.8 1920.2,807.7 1928.7,806.5 1937.2,810.4 1945.7,803.0 1954.1,820.0 1962.6,824.8 1971.1,867.0 1979.5,816.0 1988.0,819.2 1996.5,867.0 2005.0,820.8 2013.5,867.0 2021.9,821.6 2030.4,812.5 2038.9,818.9 2047.4,817.3 2055.8,867.0 2064.3,824.0 2072.8,819.2 2081.2,867.0 2089.7,813.6 2098.2,807.7 2106.7,821.6 2115.2,807.7 2123.6,815.7 2132.1,814.7 2140.6,867.0 2149.1,810.9 2157.5,867.0 2166.0,810.0 2174.5,867.0 2183.0,815.7 2191.4,816.0 2199.9,825.3 2208.4,826.4 2216.8,867.0 2225.3,822.7 2233.8,867.0 2242.3,824.0 2250.8,818.9 2259.2,803.3 2267.7,812.0 2276.2,812.5 2284.7,816.0 2293.1,806.1 2301.6,867.0 2310.1,867.0 2318.6,867.0 2326.0,866.0" fill="none" stroke="#d3dc55" stroke-width="3" stroke-linejoin="round"/><polyline points="191.3,867.0 199.8,806.5 208.3,792.1 216.8,833.9 225.2,819.2 233.7,867.0 242.2,835.9 250.7,818.4 259.1,818.4 267.6,867.0 276.1,834.2 284.6,818.4 293.0,818.4 301.5,782.6 310.0,785.4 318.5,784.6 326.9,867.0 335.4,786.5 343.9,784.5 352.4,785.0 360.8,817.3 369.3,782.6 377.8,774.6 386.2,767.4 394.7,775.1 403.2,770.6 411.7,781.0 420.2,777.8 428.6,817.3 437.1,769.0 445.6,752.3 454.1,778.6 462.5,771.4 471.0,816.0 479.5,764.2 487.9,759.5 496.4,759.0 504.9,761.5 513.4,817.3 521.9,766.6 530.3,763.1 538.8,753.1 547.3,756.8 555.8,754.7 564.2,763.8 572.7,758.3 581.2,762.6 589.7,772.7 598.1,818.4 606.6,818.4 615.1,755.8 623.5,763.1 632.0,761.1 640.5,760.6 649.0,757.9 657.5,816.0 665.9,749.4 674.4,756.3 682.9,818.4 691.4,817.9 699.8,817.6 708.3,759.0 716.8,770.1 725.2,760.3 733.7,762.2 742.2,773.8 750.7,765.4 759.1,763.8 767.6,818.4 776.1,817.9 784.6,818.4 793.1,770.1 801.5,762.6 810.0,763.8 818.5,763.4 827.0,766.9 835.4,763.4 843.9,765.8 852.4,760.3 860.9,817.3 869.3,775.4 877.8,765.8 886.3,765.0 894.8,766.6 903.2,766.9 911.7,759.5 920.2,775.9 928.6,776.2 937.1,776.2 945.6,767.9 954.1,816.8 962.6,772.2 971.0,761.5 979.5,758.3 988.0,765.4 996.5,816.3 1004.9,766.6 1013.4,771.4 1021.9,769.0 1030.3,771.7 1038.8,816.3 1047.3,771.4 1055.8,770.6 1064.2,763.4 1072.7,763.1 1081.2,771.4 1089.7,817.3 1098.2,773.0 1106.6,773.3 1115.1,767.4 1123.6,764.2 1132.1,773.0 1140.5,817.3 1149.0,763.4 1157.5,769.8 1166.0,763.1 1174.4,817.3 1182.9,771.4 1191.4,817.3 1199.9,762.6 1208.3,768.2 1216.8,756.3 1225.3,769.5 1233.8,767.9 1242.2,764.2 1250.7,767.4 1259.2,772.2 1267.7,817.3 1276.1,817.6 1284.6,817.9 1293.1,768.5 1301.5,767.4 1310.0,759.5 1318.5,767.4 1327.0,765.0 1335.5,768.2 1343.9,767.4 1352.4,765.0 1360.9,817.3 1369.4,817.9 1377.8,767.9 1386.3,767.9 1394.8,765.8 1403.2,765.8 1411.7,766.6 1420.2,816.8 1428.7,767.4 1437.2,817.3 1445.6,817.6 1454.1,817.6 1462.6,769.5 1471.0,771.4 1479.5,761.1 1488.0,773.8 1496.5,769.0 1505.0,766.9 1513.4,766.9 1521.9,817.3 1530.4,817.6 1538.9,777.8 1547.3,816.8 1555.8,771.7 1564.3,767.9 1572.8,766.9 1581.2,761.9 1589.7,767.4 1598.2,774.3 1606.7,817.6 1615.1,817.3 1623.6,773.8 1632.1,781.8 1640.5,768.2 1649.0,760.6 1657.5,771.7 1666.0,759.9 1674.5,762.2 1682.9,760.6 1691.4,764.7 1699.9,773.0 1708.4,817.3 1716.8,767.4 1725.3,766.9 1733.8,771.4 1742.2,767.4 1750.7,817.3 1759.2,764.2 1767.7,771.7 1776.2,771.7 1784.6,817.6 1793.1,817.6 1801.6,771.4 1810.0,766.6 1818.5,761.1 1827.0,756.8 1835.5,763.4 1844.0,765.4 1852.4,765.8 1860.9,817.3 1869.4,751.0 1877.9,817.3 1886.3,780.2 1894.8,817.3 1903.3,764.2 1911.8,771.4 1920.2,758.3 1928.7,756.3 1937.2,761.1 1945.7,750.7 1954.1,770.1 1962.6,774.9 1971.1,817.3 1979.5,766.6 1988.0,769.5 1996.5,817.3 2005.0,771.4 2013.5,817.3 2021.9,772.2 2030.4,763.1 2038.9,769.0 2047.4,767.9 2055.8,817.3 2064.3,774.6 2072.8,769.8 2081.2,817.3 2089.7,764.7 2098.2,757.9 2106.7,771.7 2115.2,757.4 2123.6,765.0 2132.1,765.4 2140.6,817.3 2149.1,761.1 2157.5,817.3 2166.0,759.5 2174.5,817.6 2183.0,765.8 2191.4,766.6 2199.9,775.4 2208.4,777.0 2216.8,817.3 2225.3,773.0 2233.8,817.3 2242.3,774.6 2250.8,769.5 2259.2,753.6 2267.7,762.6 2276.2,763.4 2284.7,765.4 2293.1,756.3 2301.6,867.0 2310.1,867.0 2318.6,867.0 2326.0,779.7" fill="none" stroke="#74b3ee" stroke-width="3" stroke-linejoin="round"/><polyline points="191.3,867.0 199.8,806.5 208.3,717.2 216.8,790.5 225.2,776.5 233.7,867.0 242.2,835.9 250.7,777.5 259.1,778.1 267.6,867.0 276.1,791.3 284.6,775.4 293.0,770.6 301.5,736.0 310.0,740.8 318.5,737.2 326.9,822.4 335.4,742.7 343.9,740.3 352.4,737.2 360.8,771.7 369.3,734.8 377.8,720.4 386.2,703.7 394.7,708.5 403.2,695.7 411.7,709.6 420.2,697.3 428.6,738.7 437.1,697.3 445.6,680.9 454.1,704.5 462.5,688.2 471.0,739.5 479.5,684.6 487.9,676.1 496.4,672.6 504.9,664.7 513.4,733.5 521.9,673.4 530.3,672.6 538.8,653.8 547.3,664.7 555.8,650.3 564.2,674.5 572.7,665.5 581.2,762.2 589.7,682.5 598.1,732.4 606.6,817.6 615.1,660.7 623.5,659.9 632.0,652.2 640.5,654.3 649.0,656.4 657.5,714.1 665.9,644.3 674.4,644.3 682.9,712.5 691.4,718.8 699.8,724.4 708.3,666.6 716.8,688.2 725.2,669.4 733.7,761.9 742.2,692.5 750.7,670.2 759.1,675.8 767.6,735.1 776.1,732.4 784.6,736.4 793.1,681.4 801.5,668.6 810.0,678.7 818.5,683.0 827.0,687.3 835.4,674.2 843.9,682.5 852.4,679.0 860.9,731.6 869.3,691.8 877.8,673.0 886.3,675.0 894.8,679.0 903.2,687.3 911.7,671.8 920.2,697.3 928.6,693.3 937.1,695.3 945.6,765.8 954.1,728.1 962.6,674.2 971.0,673.4 979.5,676.6 988.0,682.5 996.5,731.3 1004.9,692.1 1013.4,683.8 1021.9,688.2 1030.3,696.5 1038.8,742.4 1047.3,700.0 1055.8,692.1 1064.2,672.6 1072.7,681.9 1081.2,693.3 1089.7,735.6 1098.2,695.7 1106.6,693.7 1115.1,689.4 1123.6,677.4 1132.1,691.8 1140.5,733.2 1149.0,685.7 1157.5,679.8 1166.0,670.7 1174.4,724.4 1182.9,689.4 1191.4,724.4 1199.9,680.3 1208.3,690.5 1216.8,670.2 1225.3,685.1 1233.8,677.4 1242.2,674.2 1250.7,686.2 1259.2,688.6 1267.7,742.7 1276.1,738.3 1284.6,735.6 1293.1,680.9 1301.5,683.8 1310.0,673.4 1318.5,675.8 1327.0,675.5 1335.5,687.8 1343.9,686.2 1352.4,679.0 1360.9,736.0 1369.4,727.1 1377.8,686.7 1386.3,687.3 1394.8,682.5 1403.2,677.1 1411.7,677.4 1420.2,737.6 1428.7,675.0 1437.2,743.5 1445.6,742.4 1454.1,735.1 1462.6,688.6 1471.0,771.1 1479.5,683.0 1488.0,691.8 1496.5,683.0 1505.0,682.2 1513.4,692.1 1521.9,744.0 1530.4,733.2 1538.9,704.2 1547.3,744.0 1555.8,683.0 1564.3,679.0 1572.8,680.3 1581.2,679.8 1589.7,677.7 1598.2,691.0 1606.7,739.9 1615.1,740.8 1623.6,696.5 1632.1,702.1 1640.5,689.4 1649.0,673.9 1657.5,687.8 1666.0,674.5 1674.5,672.6 1682.9,671.0 1691.4,676.6 1699.9,691.0 1708.4,728.7 1716.8,680.3 1725.3,679.0 1733.8,683.5 1742.2,687.8 1750.7,736.4 1759.2,683.8 1767.7,691.0 1776.2,695.7 1784.6,741.1 1793.1,742.7 1801.6,691.0 1810.0,681.9 1818.5,684.1 1827.0,680.6 1835.5,673.9 1844.0,682.5 1852.4,674.2 1860.9,736.4 1869.4,670.7 1877.9,730.8 1886.3,688.6 1894.8,734.8 1903.3,693.0 1911.8,687.0 1920.2,673.4 1928.7,675.0 1937.2,672.3 1945.7,671.4 1954.1,688.9 1962.6,683.0 1971.1,730.3 1979.5,691.4 1988.0,687.3 1996.5,720.4 2005.0,678.7 2013.5,727.6 2021.9,771.7 2030.4,671.0 2038.9,685.1 2047.4,687.8 2055.8,739.9 2064.3,700.5 2072.8,684.6 2081.2,740.8 2089.7,691.4 2098.2,679.3 2106.7,688.6 2115.2,672.6 2123.6,670.2 2132.1,680.6 2140.6,723.6 2149.1,671.4 2157.5,733.5 2166.0,673.9 2174.5,817.6 2183.0,682.5 2191.4,671.0 2199.9,693.3 2208.4,701.0 2216.8,742.7 2225.3,708.5 2233.8,746.2 2242.3,697.8 2250.8,692.1 2259.2,664.7 2267.7,677.7 2276.2,675.8 2284.7,678.2 2293.1,668.6 2301.6,867.0 2310.1,867.0 2318.6,867.0 2326.0,779.4" fill="none" stroke="#000" stroke-width="3.4" stroke-linejoin="bevel"/><polyline points="132.0,829.8 216.8,822.3 225.2,800.0 242.2,800.0 250.7,778.5 259.1,777.6 276.1,777.6 284.6,755.2 310.0,755.2 318.5,732.9 335.4,732.9 343.9,719.5 352.4,710.5 369.3,710.5 377.8,688.2 394.7,688.2 403.2,674.2 411.7,665.9 428.6,665.9 437.1,643.5 2326.0,643.5 2326.0,867.0" fill="none" stroke="#3a73cf" stroke-width="2.6" stroke-linejoin="round"/></g><text x="130" y="691.0" font-size="18.6" fill="#666" text-anchor="end">60</text><text x="130" y="752.0" font-size="18.6" fill="#666" text-anchor="end">40</text><text x="130" y="812.8" font-size="18.6" fill="#666" text-anchor="end">20</text><text x="130" y="873.5" font-size="18.6" fill="#666" text-anchor="end">0</text><text x="2328.5" y="688.2" font-size="18.6" fill="#666">100</text><text x="2328.5" y="780.85" font-size="18.6" fill="#666">50</text><text x="2328.5" y="873.5" font-size="18.6" fill="#666">0</text><text x="132.0" y="888.0" font-size="19" fill="#666" text-anchor="middle">0(s)</text><text x="471.0" y="888.0" font-size="19" fill="#666" text-anchor="middle">200(s)</text><text x="810.0" y="888.0" font-size="19" fill="#666" text-anchor="middle">400(s)</text><text x="1149.0" y="888.0" font-size="19" fill="#666" text-anchor="middle">600(s)</text><text x="1488.0" y="888.0" font-size="19" fill="#666" text-anchor="middle">800(s)</text><text x="1827.0" y="888.0" font-size="19" fill="#666" text-anchor="middle">1000(s)</text><text x="2166.0" y="888.0" font-size="19" fill="#666" text-anchor="middle">1200(s)</text><text transform="translate(71,750) rotate(-90)" font-size="22" fill="#666" text-anchor="middle">Time (sec)</text><text transform="translate(2398,750) rotate(-90)" font-size="22" fill="#666" text-anchor="middle">Virtual Users</text><rect x="140" y="913.0" width="48" height="3" fill="#000"/><text x="196" y="920.9" font-size="17.65" fill="#666">Script Total</text><rect x="299" y="910.1" width="48" height="10.5" fill="#e6d3ee"/><rect x="299" y="910.1" width="48" height="2.7" fill="#b06fd0"/><text x="355" y="920.9" font-size="17.65" fill="#666">SmartStore--Add-Cart</text><rect x="542" y="910.1" width="48" height="10.5" fill="#d3e5fa"/><rect x="542" y="910.1" width="48" height="2.7" fill="#7fb5ee"/><text x="598" y="920.9" font-size="17.65" fill="#666">Petstore</text><rect x="679" y="910.1" width="48" height="10.5" fill="#eef1c6"/><rect x="679" y="910.1" width="48" height="2.7" fill="#d3db60"/><text x="735" y="920.9" font-size="17.65" fill="#666">SmartStore---Search</text><rect x="913" y="913.0" width="48" height="3" fill="#3a73cf"/><text x="969" y="920.9" font-size="17.65" fill="#666">Virtual Users</text></svg><svg class="a" style="left:1389px;top:569.8px" width="24" height="24" viewBox="-12 -12 24 24"><circle r="11" fill="#4f93b0"/><g transform="scale(1.0)" fill="#fff"><circle cx="0" cy="-5.6" r="1.9"/><path d="M-3.6 -2.2 H1.9 V5 H3.6 V7 H-3.6 V5 H-1.9 V-0.2 H-3.6 Z"/></g></svg>
<svg class="a" style="left:0;top:980px" width="2454" height="460" viewBox="0 980 2454 460"><text x="1229" y="1072" font-size="27.1" fill="#666" text-anchor="middle">Navigation Timings</text><rect x="132.0" y="1154.45" width="2194.0" height="1.7" fill="#ebebeb"/><rect x="132.0" y="1218.3500000000001" width="2194.0" height="1.7" fill="#ebebeb"/><rect x="132.0" y="1282.25" width="2194.0" height="1.7" fill="#ebebeb"/><rect x="131.2" y="1112" width="1.6" height="236.0" fill="#222"/><rect x="132.0" y="1346.4" width="2194.0" height="1.7" fill="#333"/><clipPath id="cp2"><rect x="132.0" y="1100" width="2194.3" height="247.5999999999999"/></clipPath><g clip-path="url(#cp2)"><polygon points="191.3,1347.0 199.8,1347.0 208.3,1147.3 216.8,1347.0 225.2,1297.5 233.7,1347.0 242.2,1347.0 250.7,1296.7 259.1,1298.3 267.6,1347.0 276.1,1347.0 284.6,1291.4 293.0,1293.5 301.5,1291.4 310.0,1290.3 318.5,1294.0 326.9,1347.0 335.4,1293.0 343.9,1295.6 352.4,1293.5 360.8,1291.1 369.3,1280.7 377.8,1279.1 386.2,1287.6 394.7,1279.6 403.2,1286.3 411.7,1287.9 420.2,1279.1 428.6,1287.1 437.1,1278.3 445.6,1270.6 454.1,1235.5 462.5,1260.7 471.0,1247.2 479.5,1220.0 487.9,1228.5 496.4,1281.5 504.9,1290.8 513.4,1283.9 521.9,1282.8 530.3,1247.2 538.8,1184.9 547.3,1207.2 555.8,1125.7 564.2,1209.6 572.7,1279.9 581.2,1229.1 589.7,1289.5 598.1,1282.3 606.6,1274.8 615.1,1234.9 623.5,1231.7 632.0,1277.5 640.5,1216.8 649.0,1205.1 657.5,1248.0 665.9,1247.6 674.4,1251.9 682.9,1288.7 691.4,1280.7 699.8,1283.9 708.3,1198.1 716.8,1193.6 725.2,1240.0 733.7,1156.1 742.2,1149.2 750.7,1275.1 759.1,1283.4 767.6,1285.5 776.1,1287.6 784.6,1285.5 793.1,1282.3 801.5,1278.0 810.0,1273.5 818.5,1254.7 827.0,1269.5 835.4,1287.1 843.9,1270.3 852.4,1290.3 860.9,1282.3 869.3,1273.8 877.8,1274.8 886.3,1273.5 894.8,1272.7 903.2,1286.6 911.7,1275.9 920.2,1274.3 928.6,1275.4 937.1,1254.0 945.6,1270.6 954.1,1287.6 962.6,1286.3 971.0,1279.9 979.5,1273.8 988.0,1274.8 996.5,1274.3 1004.9,1281.2 1013.4,1290.3 1021.9,1256.3 1030.3,1275.9 1038.8,1220.5 1047.3,1253.7 1055.8,1287.1 1064.2,1277.5 1072.7,1281.2 1081.2,1275.4 1089.7,1274.8 1098.2,1283.1 1106.6,1286.0 1115.1,1285.0 1123.6,1284.4 1132.1,1259.9 1140.5,1272.7 1149.0,1272.7 1157.5,1226.9 1166.0,1269.5 1174.4,1270.3 1182.9,1292.7 1191.4,1284.7 1199.9,1287.9 1208.3,1282.3 1216.8,1284.4 1225.3,1271.6 1233.8,1275.9 1242.2,1240.8 1250.7,1276.7 1259.2,1278.3 1267.7,1282.3 1276.1,1288.2 1284.6,1287.1 1293.1,1283.9 1301.5,1279.9 1310.0,1214.4 1318.5,1264.7 1327.0,1210.9 1335.5,1221.6 1343.9,1279.6 1352.4,1265.2 1360.9,1282.8 1369.4,1286.6 1377.8,1283.4 1386.3,1283.9 1394.8,1283.4 1403.2,1275.9 1411.7,1276.4 1420.2,1271.6 1428.7,1273.5 1437.2,1278.0 1445.6,1288.2 1454.1,1280.2 1462.6,1278.3 1471.0,1269.5 1479.5,1276.4 1488.0,1266.3 1496.5,1257.2 1505.0,1276.7 1513.4,1268.7 1521.9,1276.7 1530.4,1283.9 1538.9,1283.9 1547.3,1274.3 1555.8,1282.3 1564.3,1247.6 1572.8,1275.1 1581.2,1267.9 1589.7,1255.1 1598.2,1283.1 1606.7,1288.2 1615.1,1289.5 1623.6,1279.6 1632.1,1263.9 1640.5,1279.1 1649.0,1274.3 1657.5,1234.4 1666.0,1274.3 1674.5,1155.0 1682.9,1279.9 1691.4,1282.3 1699.9,1285.0 1708.4,1282.8 1716.8,1280.7 1725.3,1282.3 1733.8,1284.7 1742.2,1270.3 1750.7,1278.3 1759.2,1283.4 1767.7,1279.1 1776.2,1281.2 1784.6,1284.4 1793.1,1282.3 1801.6,1275.9 1810.0,1283.1 1818.5,1284.4 1827.0,1274.3 1835.5,1245.6 1844.0,1270.6 1852.4,1239.6 1860.9,1257.2 1869.4,1274.8 1877.9,1279.6 1886.3,1279.1 1894.8,1278.6 1903.3,1282.8 1911.8,1280.2 1920.2,1267.4 1928.7,1243.2 1937.2,1272.7 1945.7,1188.0 1954.1,1262.0 1962.6,1264.7 1971.1,1287.9 1979.5,1287.1 1988.0,1283.4 1996.5,1285.0 2005.0,1263.1 2013.5,1278.6 2021.9,1275.4 2030.4,1280.2 2038.9,1283.4 2047.4,1272.7 2055.8,1288.2 2064.3,1280.2 2072.8,1291.9 2081.2,1276.7 2089.7,1283.9 2098.2,1248.0 2106.7,1256.3 2115.2,1261.5 2123.6,1209.6 2132.1,1275.1 2140.6,1280.7 2149.1,1269.5 2157.5,1277.5 2166.0,1207.7 2174.5,1278.3 2183.0,1275.4 2191.4,1282.8 2199.9,1279.1 2208.4,1291.1 2216.8,1279.1 2225.3,1273.2 2233.8,1284.4 2242.3,1284.4 2250.8,1286.3 2259.2,1247.2 2267.7,1251.9 2276.2,1263.6 2284.7,1224.0 2293.1,1285.5 2301.6,1347.0 2310.1,1347.0 2318.6,1347.0 2326.0,1300.7 2326.0,1300.7 2318.6,1347.0 2310.1,1347.0 2301.6,1347.0 2293.1,1285.5 2284.7,1235.2 2276.2,1271.6 2267.7,1260.4 2259.2,1255.9 2250.8,1294.3 2242.3,1292.4 2233.8,1292.7 2225.3,1282.3 2216.8,1286.3 2208.4,1299.1 2199.9,1287.9 2191.4,1291.1 2183.0,1291.9 2174.5,1291.4 2166.0,1232.0 2157.5,1286.3 2149.1,1279.9 2140.6,1289.5 2132.1,1283.9 2123.6,1222.4 2115.2,1268.7 2106.7,1264.2 2098.2,1257.2 2089.7,1292.7 2081.2,1286.0 2072.8,1298.8 2064.3,1289.5 2055.8,1296.7 2047.4,1281.8 2038.9,1291.9 2030.4,1289.2 2021.9,1284.7 2013.5,1287.6 2005.0,1271.1 1996.5,1292.7 1988.0,1291.9 1979.5,1295.6 1971.1,1295.9 1962.6,1273.5 1954.1,1271.1 1945.7,1200.0 1937.2,1281.5 1928.7,1251.2 1920.2,1275.1 1911.8,1288.7 1903.3,1291.1 1894.8,1287.6 1886.3,1287.6 1877.9,1287.6 1869.4,1283.1 1860.9,1264.7 1852.4,1247.2 1844.0,1279.1 1835.5,1253.1 1827.0,1283.1 1818.5,1292.7 1810.0,1291.9 1801.6,1284.7 1793.1,1291.1 1784.6,1292.4 1776.2,1289.8 1767.7,1288.7 1759.2,1290.8 1750.7,1287.9 1742.2,1285.0 1733.8,1293.5 1725.3,1292.7 1716.8,1289.8 1708.4,1291.4 1699.9,1293.5 1691.4,1292.4 1682.9,1290.3 1674.5,1180.9 1666.0,1281.5 1657.5,1246.4 1649.0,1283.1 1640.5,1287.6 1632.1,1271.9 1623.6,1287.6 1615.1,1297.8 1606.7,1295.6 1598.2,1291.9 1589.7,1262.7 1581.2,1275.4 1572.8,1284.4 1564.3,1255.9 1555.8,1290.8 1547.3,1283.4 1538.9,1293.5 1530.4,1292.7 1521.9,1285.5 1513.4,1278.0 1505.0,1284.4 1496.5,1266.3 1488.0,1275.9 1479.5,1287.6 1471.0,1277.5 1462.6,1287.1 1454.1,1288.7 1445.6,1296.2 1437.2,1286.3 1428.7,1282.3 1420.2,1280.2 1411.7,1283.9 1403.2,1284.7 1394.8,1291.9 1386.3,1292.7 1377.8,1293.5 1369.4,1295.1 1360.9,1291.4 1352.4,1272.7 1343.9,1287.1 1335.5,1230.4 1327.0,1220.0 1318.5,1271.9 1310.0,1228.8 1301.5,1287.9 1293.1,1291.4 1284.6,1295.1 1276.1,1296.7 1267.7,1291.1 1259.2,1287.6 1250.7,1286.3 1242.2,1251.2 1233.8,1284.7 1225.3,1281.5 1216.8,1293.0 1208.3,1291.1 1199.9,1297.2 1191.4,1294.0 1182.9,1301.5 1174.4,1278.3 1166.0,1277.5 1157.5,1238.4 1149.0,1280.7 1140.5,1287.6 1132.1,1267.9 1123.6,1292.7 1115.1,1293.0 1106.6,1294.3 1098.2,1292.4 1089.7,1284.4 1081.2,1284.7 1072.7,1290.3 1064.2,1286.3 1055.8,1295.9 1047.3,1260.7 1038.8,1232.0 1030.3,1286.3 1021.9,1265.5 1013.4,1299.1 1004.9,1289.8 996.5,1283.1 988.0,1283.4 979.5,1283.9 971.0,1288.7 962.6,1295.6 954.1,1295.6 945.6,1279.9 937.1,1262.3 928.6,1284.4 920.2,1283.1 911.7,1285.5 903.2,1295.1 894.8,1281.5 886.3,1282.3 877.8,1283.1 869.3,1282.8 860.9,1291.9 852.4,1298.3 843.9,1278.6 835.4,1294.3 827.0,1277.5 818.5,1262.3 810.0,1281.8 801.5,1286.0 793.1,1289.8 784.6,1293.5 776.1,1295.9 767.6,1294.6 759.1,1292.4 750.7,1286.3 742.2,1158.8 733.7,1163.6 725.2,1248.0 716.8,1202.4 708.3,1207.2 699.8,1291.9 691.4,1289.8 682.9,1296.7 674.4,1259.5 665.9,1255.6 657.5,1256.3 649.0,1214.7 640.5,1225.6 632.0,1286.3 623.5,1239.6 615.1,1242.8 606.6,1283.9 598.1,1291.1 589.7,1297.8 581.2,1246.4 572.7,1286.3 564.2,1216.0 555.8,1131.3 547.3,1215.2 538.8,1192.8 530.3,1260.7 521.9,1291.4 513.4,1292.7 504.9,1298.8 496.4,1290.3 487.9,1236.5 479.5,1238.1 471.0,1254.3 462.5,1269.5 454.1,1243.2 445.6,1279.9 437.1,1287.1 428.6,1294.3 420.2,1289.5 411.7,1296.2 403.2,1293.5 394.7,1289.2 386.2,1295.1 377.8,1289.5 369.3,1290.3 360.8,1299.4 352.4,1302.0 343.9,1304.7 335.4,1302.3 326.9,1347.0 318.5,1303.1 310.0,1302.0 301.5,1300.7 293.0,1302.3 284.6,1301.5 276.1,1347.0 267.6,1347.0 259.1,1307.4 250.7,1306.3 242.2,1347.0 233.7,1347.0 225.2,1298.3 216.8,1347.0 208.3,1147.3 199.8,1347.0 191.3,1347.0" fill="rgba(240,150,110,0.40)"/><polygon points="191.3,1347.0 199.8,1347.0 208.3,1147.3 216.8,1347.0 225.2,1298.3 233.7,1347.0 242.2,1347.0 250.7,1306.3 259.1,1307.4 267.6,1347.0 276.1,1347.0 284.6,1301.5 293.0,1302.3 301.5,1300.7 310.0,1302.0 318.5,1303.1 326.9,1347.0 335.4,1302.3 343.9,1304.7 352.4,1302.0 360.8,1299.4 369.3,1290.3 377.8,1289.5 386.2,1295.1 394.7,1289.2 403.2,1293.5 411.7,1296.2 420.2,1289.5 428.6,1294.3 437.1,1287.1 445.6,1279.9 454.1,1243.2 462.5,1269.5 471.0,1254.3 479.5,1238.1 487.9,1236.5 496.4,1290.3 504.9,1298.8 513.4,1292.7 521.9,1291.4 530.3,1260.7 538.8,1192.8 547.3,1215.2 555.8,1131.3 564.2,1216.0 572.7,1286.3 581.2,1246.4 589.7,1297.8 598.1,1291.1 606.6,1283.9 615.1,1242.8 623.5,1239.6 632.0,1286.3 640.5,1225.6 649.0,1214.7 657.5,1256.3 665.9,1255.6 674.4,1259.5 682.9,1296.7 691.4,1289.8 699.8,1291.9 708.3,1207.2 716.8,1202.4 725.2,1248.0 733.7,1163.6 742.2,1158.8 750.7,1286.3 759.1,1292.4 767.6,1294.6 776.1,1295.9 784.6,1293.5 793.1,1289.8 801.5,1286.0 810.0,1281.8 818.5,1262.3 827.0,1277.5 835.4,1294.3 843.9,1278.6 852.4,1298.3 860.9,1291.9 869.3,1282.8 877.8,1283.1 886.3,1282.3 894.8,1281.5 903.2,1295.1 911.7,1285.5 920.2,1283.1 928.6,1284.4 937.1,1262.3 945.6,1279.9 954.1,1295.6 962.6,1295.6 971.0,1288.7 979.5,1283.9 988.0,1283.4 996.5,1283.1 1004.9,1289.8 1013.4,1299.1 1021.9,1265.5 1030.3,1286.3 1038.8,1232.0 1047.3,1260.7 1055.8,1295.9 1064.2,1286.3 1072.7,1290.3 1081.2,1284.7 1089.7,1284.4 1098.2,1292.4 1106.6,1294.3 1115.1,1293.0 1123.6,1292.7 1132.1,1267.9 1140.5,1287.6 1149.0,1280.7 1157.5,1238.4 1166.0,1277.5 1174.4,1278.3 1182.9,1301.5 1191.4,1294.0 1199.9,1297.2 1208.3,1291.1 1216.8,1293.0 1225.3,1281.5 1233.8,1284.7 1242.2,1251.2 1250.7,1286.3 1259.2,1287.6 1267.7,1291.1 1276.1,1296.7 1284.6,1295.1 1293.1,1291.4 1301.5,1287.9 1310.0,1228.8 1318.5,1271.9 1327.0,1220.0 1335.5,1230.4 1343.9,1287.1 1352.4,1272.7 1360.9,1291.4 1369.4,1295.1 1377.8,1293.5 1386.3,1292.7 1394.8,1291.9 1403.2,1284.7 1411.7,1283.9 1420.2,1280.2 1428.7,1282.3 1437.2,1286.3 1445.6,1296.2 1454.1,1288.7 1462.6,1287.1 1471.0,1277.5 1479.5,1287.6 1488.0,1275.9 1496.5,1266.3 1505.0,1284.4 1513.4,1278.0 1521.9,1285.5 1530.4,1292.7 1538.9,1293.5 1547.3,1283.4 1555.8,1290.8 1564.3,1255.9 1572.8,1284.4 1581.2,1275.4 1589.7,1262.7 1598.2,1291.9 1606.7,1295.6 1615.1,1297.8 1623.6,1287.6 1632.1,1271.9 1640.5,1287.6 1649.0,1283.1 1657.5,1246.4 1666.0,1281.5 1674.5,1180.9 1682.9,1290.3 1691.4,1292.4 1699.9,1293.5 1708.4,1291.4 1716.8,1289.8 1725.3,1292.7 1733.8,1293.5 1742.2,1285.0 1750.7,1287.9 1759.2,1290.8 1767.7,1288.7 1776.2,1289.8 1784.6,1292.4 1793.1,1291.1 1801.6,1284.7 1810.0,1291.9 1818.5,1292.7 1827.0,1283.1 1835.5,1253.1 1844.0,1279.1 1852.4,1247.2 1860.9,1264.7 1869.4,1283.1 1877.9,1287.6 1886.3,1287.6 1894.8,1287.6 1903.3,1291.1 1911.8,1288.7 1920.2,1275.1 1928.7,1251.2 1937.2,1281.5 1945.7,1200.0 1954.1,1271.1 1962.6,1273.5 1971.1,1295.9 1979.5,1295.6 1988.0,1291.9 1996.5,1292.7 2005.0,1271.1 2013.5,1287.6 2021.9,1284.7 2030.4,1289.2 2038.9,1291.9 2047.4,1281.8 2055.8,1296.7 2064.3,1289.5 2072.8,1298.8 2081.2,1286.0 2089.7,1292.7 2098.2,1257.2 2106.7,1264.2 2115.2,1268.7 2123.6,1222.4 2132.1,1283.9 2140.6,1289.5 2149.1,1279.9 2157.5,1286.3 2166.0,1232.0 2174.5,1291.4 2183.0,1291.9 2191.4,1291.1 2199.9,1287.9 2208.4,1299.1 2216.8,1286.3 2225.3,1282.3 2233.8,1292.7 2242.3,1292.4 2250.8,1294.3 2259.2,1255.9 2267.7,1260.4 2276.2,1271.6 2284.7,1235.2 2293.1,1285.5 2301.6,1347.0 2310.1,1347.0 2318.6,1347.0 2326.0,1300.7 2326.0,1300.7 2318.6,1347.0 2310.1,1347.0 2301.6,1347.0 2293.1,1285.5 2284.7,1248.8 2276.2,1281.5 2267.7,1268.7 2259.2,1272.7 2250.8,1297.5 2242.3,1295.6 2233.8,1296.2 2225.3,1286.3 2216.8,1290.8 2208.4,1302.3 2199.9,1291.4 2191.4,1294.3 2183.0,1294.6 2174.5,1294.6 2166.0,1244.0 2157.5,1290.8 2149.1,1287.1 2140.6,1292.7 2132.1,1290.3 2123.6,1253.5 2115.2,1284.7 2106.7,1272.7 2098.2,1273.2 2089.7,1296.2 2081.2,1288.7 2072.8,1301.5 2064.3,1293.0 2055.8,1299.9 2047.4,1287.1 2038.9,1295.6 2030.4,1293.5 2021.9,1288.7 2013.5,1292.7 2005.0,1288.2 1996.5,1295.6 1988.0,1295.6 1979.5,1298.8 1971.1,1299.4 1962.6,1277.5 1954.1,1275.9 1945.7,1206.4 1937.2,1289.5 1928.7,1267.9 1920.2,1287.9 1911.8,1291.1 1903.3,1294.6 1894.8,1291.4 1886.3,1291.4 1877.9,1291.4 1869.4,1287.1 1860.9,1281.8 1852.4,1255.6 1844.0,1287.6 1835.5,1263.9 1827.0,1288.7 1818.5,1295.6 1810.0,1295.6 1801.6,1288.2 1793.1,1295.6 1784.6,1296.7 1776.2,1294.3 1767.7,1293.0 1759.2,1294.3 1750.7,1292.4 1742.2,1290.3 1733.8,1296.7 1725.3,1296.2 1716.8,1293.0 1708.4,1294.3 1699.9,1296.7 1691.4,1295.1 1682.9,1293.5 1674.5,1207.2 1666.0,1287.9 1657.5,1264.7 1649.0,1291.9 1640.5,1291.9 1632.1,1284.7 1623.6,1293.5 1615.1,1301.5 1606.7,1298.8 1598.2,1295.6 1589.7,1267.9 1581.2,1283.1 1572.8,1290.3 1564.3,1263.1 1555.8,1294.0 1547.3,1287.1 1538.9,1296.7 1530.4,1295.6 1521.9,1290.3 1513.4,1283.1 1505.0,1288.7 1496.5,1276.7 1488.0,1283.4 1479.5,1290.8 1471.0,1285.5 1462.6,1291.1 1454.1,1293.0 1445.6,1299.4 1437.2,1291.9 1428.7,1287.6 1420.2,1286.3 1411.7,1288.7 1403.2,1291.4 1394.8,1295.9 1386.3,1296.7 1377.8,1297.5 1369.4,1298.3 1360.9,1295.6 1352.4,1278.6 1343.9,1292.4 1335.5,1250.4 1327.0,1239.6 1318.5,1280.7 1310.0,1242.8 1301.5,1291.4 1293.1,1295.1 1284.6,1298.3 1276.1,1299.4 1267.7,1294.6 1259.2,1291.4 1250.7,1290.3 1242.2,1263.9 1233.8,1291.4 1225.3,1287.6 1216.8,1297.2 1208.3,1294.3 1199.9,1300.4 1191.4,1297.2 1182.9,1304.2 1174.4,1285.5 1166.0,1286.3 1157.5,1247.2 1149.0,1284.7 1140.5,1293.0 1132.1,1274.3 1123.6,1295.6 1115.1,1296.7 1106.6,1297.5 1098.2,1295.9 1089.7,1289.5 1081.2,1289.2 1072.7,1294.0 1064.2,1289.5 1055.8,1298.3 1047.3,1263.9 1038.8,1236.0 1030.3,1291.4 1021.9,1274.8 1013.4,1301.5 1004.9,1293.5 996.5,1287.1 988.0,1287.1 979.5,1288.7 971.0,1292.4 962.6,1298.3 954.1,1298.8 945.6,1284.7 937.1,1268.7 928.6,1291.4 920.2,1292.4 911.7,1290.8 903.2,1298.3 894.8,1285.5 886.3,1286.3 877.8,1286.6 869.3,1286.6 860.9,1295.9 852.4,1301.5 843.9,1283.1 835.4,1297.8 827.0,1281.8 818.5,1280.7 810.0,1287.6 801.5,1290.3 793.1,1294.6 784.6,1297.2 776.1,1299.4 767.6,1297.8 759.1,1295.1 750.7,1289.8 742.2,1166.5 733.7,1191.2 725.2,1261.5 716.8,1231.7 708.3,1238.7 699.8,1295.6 691.4,1296.7 682.9,1300.4 674.4,1271.6 665.9,1267.9 657.5,1270.3 649.0,1229.6 640.5,1250.4 632.0,1291.1 623.5,1246.4 615.1,1267.9 606.6,1289.8 598.1,1294.6 589.7,1301.5 581.2,1261.5 572.7,1292.7 564.2,1235.2 555.8,1178.5 547.3,1249.2 538.8,1225.9 530.3,1270.3 521.9,1295.6 513.4,1296.7 504.9,1303.1 496.4,1294.3 487.9,1254.3 479.5,1249.9 471.0,1268.4 462.5,1279.1 454.1,1259.1 445.6,1283.1 437.1,1291.1 428.6,1301.5 420.2,1293.0 411.7,1299.9 403.2,1297.2 394.7,1292.4 386.2,1298.8 377.8,1292.7 369.3,1296.7 360.8,1302.3 352.4,1304.7 343.9,1307.1 335.4,1304.7 326.9,1347.0 318.5,1305.8 310.0,1304.7 301.5,1303.5 293.0,1304.7 284.6,1304.2 276.1,1347.0 267.6,1347.0 259.1,1309.9 250.7,1308.7 242.2,1347.0 233.7,1347.0 225.2,1300.7 216.8,1347.0 208.3,1147.3 199.8,1347.0 191.3,1347.0" fill="rgba(190,130,215,0.33)"/><polygon points="191.3,1347.0 199.8,1347.0 208.3,1147.3 216.8,1347.0 225.2,1300.7 233.7,1347.0 242.2,1347.0 250.7,1308.7 259.1,1309.9 267.6,1347.0 276.1,1347.0 284.6,1304.2 293.0,1304.7 301.5,1303.5 310.0,1304.7 318.5,1305.8 326.9,1347.0 335.4,1304.7 343.9,1307.1 352.4,1304.7 360.8,1302.3 369.3,1296.7 377.8,1292.7 386.2,1298.8 394.7,1292.4 403.2,1297.2 411.7,1299.9 420.2,1293.0 428.6,1301.5 437.1,1291.1 445.6,1283.1 454.1,1259.1 462.5,1279.1 471.0,1268.4 479.5,1249.9 487.9,1254.3 496.4,1294.3 504.9,1303.1 513.4,1296.7 521.9,1295.6 530.3,1270.3 538.8,1225.9 547.3,1249.2 555.8,1178.5 564.2,1235.2 572.7,1292.7 581.2,1261.5 589.7,1301.5 598.1,1294.6 606.6,1289.8 615.1,1267.9 623.5,1246.4 632.0,1291.1 640.5,1250.4 649.0,1229.6 657.5,1270.3 665.9,1267.9 674.4,1271.6 682.9,1300.4 691.4,1296.7 699.8,1295.6 708.3,1238.7 716.8,1231.7 725.2,1261.5 733.7,1191.2 742.2,1166.5 750.7,1289.8 759.1,1295.1 767.6,1297.8 776.1,1299.4 784.6,1297.2 793.1,1294.6 801.5,1290.3 810.0,1287.6 818.5,1280.7 827.0,1281.8 835.4,1297.8 843.9,1283.1 852.4,1301.5 860.9,1295.9 869.3,1286.6 877.8,1286.6 886.3,1286.3 894.8,1285.5 903.2,1298.3 911.7,1290.8 920.2,1292.4 928.6,1291.4 937.1,1268.7 945.6,1284.7 954.1,1298.8 962.6,1298.3 971.0,1292.4 979.5,1288.7 988.0,1287.1 996.5,1287.1 1004.9,1293.5 1013.4,1301.5 1021.9,1274.8 1030.3,1291.4 1038.8,1236.0 1047.3,1263.9 1055.8,1298.3 1064.2,1289.5 1072.7,1294.0 1081.2,1289.2 1089.7,1289.5 1098.2,1295.9 1106.6,1297.5 1115.1,1296.7 1123.6,1295.6 1132.1,1274.3 1140.5,1293.0 1149.0,1284.7 1157.5,1247.2 1166.0,1286.3 1174.4,1285.5 1182.9,1304.2 1191.4,1297.2 1199.9,1300.4 1208.3,1294.3 1216.8,1297.2 1225.3,1287.6 1233.8,1291.4 1242.2,1263.9 1250.7,1290.3 1259.2,1291.4 1267.7,1294.6 1276.1,1299.4 1284.6,1298.3 1293.1,1295.1 1301.5,1291.4 1310.0,1242.8 1318.5,1280.7 1327.0,1239.6 1335.5,1250.4 1343.9,1292.4 1352.4,1278.6 1360.9,1295.6 1369.4,1298.3 1377.8,1297.5 1386.3,1296.7 1394.8,1295.9 1403.2,1291.4 1411.7,1288.7 1420.2,1286.3 1428.7,1287.6 1437.2,1291.9 1445.6,1299.4 1454.1,1293.0 1462.6,1291.1 1471.0,1285.5 1479.5,1290.8 1488.0,1283.4 1496.5,1276.7 1505.0,1288.7 1513.4,1283.1 1521.9,1290.3 1530.4,1295.6 1538.9,1296.7 1547.3,1287.1 1555.8,1294.0 1564.3,1263.1 1572.8,1290.3 1581.2,1283.1 1589.7,1267.9 1598.2,1295.6 1606.7,1298.8 1615.1,1301.5 1623.6,1293.5 1632.1,1284.7 1640.5,1291.9 1649.0,1291.9 1657.5,1264.7 1666.0,1287.9 1674.5,1207.2 1682.9,1293.5 1691.4,1295.1 1699.9,1296.7 1708.4,1294.3 1716.8,1293.0 1725.3,1296.2 1733.8,1296.7 1742.2,1290.3 1750.7,1292.4 1759.2,1294.3 1767.7,1293.0 1776.2,1294.3 1784.6,1296.7 1793.1,1295.6 1801.6,1288.2 1810.0,1295.6 1818.5,1295.6 1827.0,1288.7 1835.5,1263.9 1844.0,1287.6 1852.4,1255.6 1860.9,1281.8 1869.4,1287.1 1877.9,1291.4 1886.3,1291.4 1894.8,1291.4 1903.3,1294.6 1911.8,1291.1 1920.2,1287.9 1928.7,1267.9 1937.2,1289.5 1945.7,1206.4 1954.1,1275.9 1962.6,1277.5 1971.1,1299.4 1979.5,1298.8 1988.0,1295.6 1996.5,1295.6 2005.0,1288.2 2013.5,1292.7 2021.9,1288.7 2030.4,1293.5 2038.9,1295.6 2047.4,1287.1 2055.8,1299.9 2064.3,1293.0 2072.8,1301.5 2081.2,1288.7 2089.7,1296.2 2098.2,1273.2 2106.7,1272.7 2115.2,1284.7 2123.6,1253.5 2132.1,1290.3 2140.6,1292.7 2149.1,1287.1 2157.5,1290.8 2166.0,1244.0 2174.5,1294.6 2183.0,1294.6 2191.4,1294.3 2199.9,1291.4 2208.4,1302.3 2216.8,1290.8 2225.3,1286.3 2233.8,1296.2 2242.3,1295.6 2250.8,1297.5 2259.2,1272.7 2267.7,1268.7 2276.2,1281.5 2284.7,1248.8 2293.1,1285.5 2301.6,1347.0 2310.1,1347.0 2318.6,1347.0 2326.0,1300.7 2326.0,1347.0 2318.6,1347.0 2310.1,1347.0 2301.6,1347.0 2293.1,1347.0 2284.7,1347.0 2276.2,1347.0 2267.7,1347.0 2259.2,1347.0 2250.8,1347.0 2242.3,1347.0 2233.8,1347.0 2225.3,1347.0 2216.8,1347.0 2208.4,1347.0 2199.9,1347.0 2191.4,1347.0 2183.0,1347.0 2174.5,1347.0 2166.0,1347.0 2157.5,1347.0 2149.1,1347.0 2140.6,1347.0 2132.1,1347.0 2123.6,1347.0 2115.2,1347.0 2106.7,1347.0 2098.2,1347.0 2089.7,1347.0 2081.2,1347.0 2072.8,1347.0 2064.3,1347.0 2055.8,1347.0 2047.4,1347.0 2038.9,1347.0 2030.4,1347.0 2021.9,1347.0 2013.5,1347.0 2005.0,1347.0 1996.5,1347.0 1988.0,1347.0 1979.5,1347.0 1971.1,1347.0 1962.6,1347.0 1954.1,1347.0 1945.7,1347.0 1937.2,1347.0 1928.7,1347.0 1920.2,1347.0 1911.8,1347.0 1903.3,1347.0 1894.8,1347.0 1886.3,1347.0 1877.9,1347.0 1869.4,1347.0 1860.9,1347.0 1852.4,1347.0 1844.0,1347.0 1835.5,1347.0 1827.0,1347.0 1818.5,1347.0 1810.0,1347.0 1801.6,1347.0 1793.1,1347.0 1784.6,1347.0 1776.2,1347.0 1767.7,1347.0 1759.2,1347.0 1750.7,1347.0 1742.2,1347.0 1733.8,1347.0 1725.3,1347.0 1716.8,1347.0 1708.4,1347.0 1699.9,1347.0 1691.4,1347.0 1682.9,1347.0 1674.5,1347.0 1666.0,1347.0 1657.5,1347.0 1649.0,1347.0 1640.5,1347.0 1632.1,1347.0 1623.6,1347.0 1615.1,1347.0 1606.7,1347.0 1598.2,1347.0 1589.7,1347.0 1581.2,1347.0 1572.8,1347.0 1564.3,1347.0 1555.8,1347.0 1547.3,1347.0 1538.9,1347.0 1530.4,1347.0 1521.9,1347.0 1513.4,1347.0 1505.0,1347.0 1496.5,1347.0 1488.0,1347.0 1479.5,1347.0 1471.0,1347.0 1462.6,1347.0 1454.1,1347.0 1445.6,1347.0 1437.2,1347.0 1428.7,1347.0 1420.2,1347.0 1411.7,1347.0 1403.2,1347.0 1394.8,1347.0 1386.3,1347.0 1377.8,1347.0 1369.4,1347.0 1360.9,1347.0 1352.4,1347.0 1343.9,1347.0 1335.5,1347.0 1327.0,1347.0 1318.5,1347.0 1310.0,1347.0 1301.5,1347.0 1293.1,1347.0 1284.6,1347.0 1276.1,1347.0 1267.7,1347.0 1259.2,1347.0 1250.7,1347.0 1242.2,1347.0 1233.8,1347.0 1225.3,1347.0 1216.8,1347.0 1208.3,1347.0 1199.9,1347.0 1191.4,1347.0 1182.9,1347.0 1174.4,1347.0 1166.0,1347.0 1157.5,1347.0 1149.0,1347.0 1140.5,1347.0 1132.1,1347.0 1123.6,1347.0 1115.1,1347.0 1106.6,1347.0 1098.2,1347.0 1089.7,1347.0 1081.2,1347.0 1072.7,1347.0 1064.2,1347.0 1055.8,1347.0 1047.3,1347.0 1038.8,1347.0 1030.3,1347.0 1021.9,1347.0 1013.4,1347.0 1004.9,1347.0 996.5,1347.0 988.0,1347.0 979.5,1347.0 971.0,1347.0 962.6,1347.0 954.1,1347.0 945.6,1347.0 937.1,1347.0 928.6,1347.0 920.2,1347.0 911.7,1347.0 903.2,1347.0 894.8,1347.0 886.3,1347.0 877.8,1347.0 869.3,1347.0 860.9,1347.0 852.4,1347.0 843.9,1347.0 835.4,1347.0 827.0,1347.0 818.5,1347.0 810.0,1347.0 801.5,1347.0 793.1,1347.0 784.6,1347.0 776.1,1347.0 767.6,1347.0 759.1,1347.0 750.7,1347.0 742.2,1347.0 733.7,1347.0 725.2,1347.0 716.8,1347.0 708.3,1347.0 699.8,1347.0 691.4,1347.0 682.9,1347.0 674.4,1347.0 665.9,1347.0 657.5,1347.0 649.0,1347.0 640.5,1347.0 632.0,1347.0 623.5,1347.0 615.1,1347.0 606.6,1347.0 598.1,1347.0 589.7,1347.0 581.2,1347.0 572.7,1347.0 564.2,1347.0 555.8,1347.0 547.3,1347.0 538.8,1347.0 530.3,1347.0 521.9,1347.0 513.4,1347.0 504.9,1347.0 496.4,1347.0 487.9,1347.0 479.5,1347.0 471.0,1347.0 462.5,1347.0 454.1,1347.0 445.6,1347.0 437.1,1347.0 428.6,1347.0 420.2,1347.0 411.7,1347.0 403.2,1347.0 394.7,1347.0 386.2,1347.0 377.8,1347.0 369.3,1347.0 360.8,1347.0 352.4,1347.0 343.9,1347.0 335.4,1347.0 326.9,1347.0 318.5,1347.0 310.0,1347.0 301.5,1347.0 293.0,1347.0 284.6,1347.0 276.1,1347.0 267.6,1347.0 259.1,1347.0 250.7,1347.0 242.2,1347.0 233.7,1347.0 225.2,1347.0 216.8,1347.0 208.3,1347.0 199.8,1347.0 191.3,1347.0" fill="rgba(100,165,240,0.27)"/><polyline points="191.3,1347.0 199.8,1347.0 208.3,1147.3 216.8,1347.0 225.2,1300.7 233.7,1347.0 242.2,1347.0 250.7,1308.7 259.1,1309.9 267.6,1347.0 276.1,1347.0 284.6,1304.2 293.0,1304.7 301.5,1303.5 310.0,1304.7 318.5,1305.8 326.9,1347.0 335.4,1304.7 343.9,1307.1 352.4,1304.7 360.8,1302.3 369.3,1296.7 377.8,1292.7 386.2,1298.8 394.7,1292.4 403.2,1297.2 411.7,1299.9 420.2,1293.0 428.6,1301.5 437.1,1291.1 445.6,1283.1 454.1,1259.1 462.5,1279.1 471.0,1268.4 479.5,1249.9 487.9,1254.3 496.4,1294.3 504.9,1303.1 513.4,1296.7 521.9,1295.6 530.3,1270.3 538.8,1225.9 547.3,1249.2 555.8,1178.5 564.2,1235.2 572.7,1292.7 581.2,1261.5 589.7,1301.5 598.1,1294.6 606.6,1289.8 615.1,1267.9 623.5,1246.4 632.0,1291.1 640.5,1250.4 649.0,1229.6 657.5,1270.3 665.9,1267.9 674.4,1271.6 682.9,1300.4 691.4,1296.7 699.8,1295.6 708.3,1238.7 716.8,1231.7 725.2,1261.5 733.7,1191.2 742.2,1166.5 750.7,1289.8 759.1,1295.1 767.6,1297.8 776.1,1299.4 784.6,1297.2 793.1,1294.6 801.5,1290.3 810.0,1287.6 818.5,1280.7 827.0,1281.8 835.4,1297.8 843.9,1283.1 852.4,1301.5 860.9,1295.9 869.3,1286.6 877.8,1286.6 886.3,1286.3 894.8,1285.5 903.2,1298.3 911.7,1290.8 920.2,1292.4 928.6,1291.4 937.1,1268.7 945.6,1284.7 954.1,1298.8 962.6,1298.3 971.0,1292.4 979.5,1288.7 988.0,1287.1 996.5,1287.1 1004.9,1293.5 1013.4,1301.5 1021.9,1274.8 1030.3,1291.4 1038.8,1236.0 1047.3,1263.9 1055.8,1298.3 1064.2,1289.5 1072.7,1294.0 1081.2,1289.2 1089.7,1289.5 1098.2,1295.9 1106.6,1297.5 1115.1,1296.7 1123.6,1295.6 1132.1,1274.3 1140.5,1293.0 1149.0,1284.7 1157.5,1247.2 1166.0,1286.3 1174.4,1285.5 1182.9,1304.2 1191.4,1297.2 1199.9,1300.4 1208.3,1294.3 1216.8,1297.2 1225.3,1287.6 1233.8,1291.4 1242.2,1263.9 1250.7,1290.3 1259.2,1291.4 1267.7,1294.6 1276.1,1299.4 1284.6,1298.3 1293.1,1295.1 1301.5,1291.4 1310.0,1242.8 1318.5,1280.7 1327.0,1239.6 1335.5,1250.4 1343.9,1292.4 1352.4,1278.6 1360.9,1295.6 1369.4,1298.3 1377.8,1297.5 1386.3,1296.7 1394.8,1295.9 1403.2,1291.4 1411.7,1288.7 1420.2,1286.3 1428.7,1287.6 1437.2,1291.9 1445.6,1299.4 1454.1,1293.0 1462.6,1291.1 1471.0,1285.5 1479.5,1290.8 1488.0,1283.4 1496.5,1276.7 1505.0,1288.7 1513.4,1283.1 1521.9,1290.3 1530.4,1295.6 1538.9,1296.7 1547.3,1287.1 1555.8,1294.0 1564.3,1263.1 1572.8,1290.3 1581.2,1283.1 1589.7,1267.9 1598.2,1295.6 1606.7,1298.8 1615.1,1301.5 1623.6,1293.5 1632.1,1284.7 1640.5,1291.9 1649.0,1291.9 1657.5,1264.7 1666.0,1287.9 1674.5,1207.2 1682.9,1293.5 1691.4,1295.1 1699.9,1296.7 1708.4,1294.3 1716.8,1293.0 1725.3,1296.2 1733.8,1296.7 1742.2,1290.3 1750.7,1292.4 1759.2,1294.3 1767.7,1293.0 1776.2,1294.3 1784.6,1296.7 1793.1,1295.6 1801.6,1288.2 1810.0,1295.6 1818.5,1295.6 1827.0,1288.7 1835.5,1263.9 1844.0,1287.6 1852.4,1255.6 1860.9,1281.8 1869.4,1287.1 1877.9,1291.4 1886.3,1291.4 1894.8,1291.4 1903.3,1294.6 1911.8,1291.1 1920.2,1287.9 1928.7,1267.9 1937.2,1289.5 1945.7,1206.4 1954.1,1275.9 1962.6,1277.5 1971.1,1299.4 1979.5,1298.8 1988.0,1295.6 1996.5,1295.6 2005.0,1288.2 2013.5,1292.7 2021.9,1288.7 2030.4,1293.5 2038.9,1295.6 2047.4,1287.1 2055.8,1299.9 2064.3,1293.0 2072.8,1301.5 2081.2,1288.7 2089.7,1296.2 2098.2,1273.2 2106.7,1272.7 2115.2,1284.7 2123.6,1253.5 2132.1,1290.3 2140.6,1292.7 2149.1,1287.1 2157.5,1290.8 2166.0,1244.0 2174.5,1294.6 2183.0,1294.6 2191.4,1294.3 2199.9,1291.4 2208.4,1302.3 2216.8,1290.8 2225.3,1286.3 2233.8,1296.2 2242.3,1295.6 2250.8,1297.5 2259.2,1272.7 2267.7,1268.7 2276.2,1281.5 2284.7,1248.8 2293.1,1285.5 2301.6,1347.0 2310.1,1347.0 2318.6,1347.0 2326.0,1300.7" fill="none" stroke="#8fbdf0" stroke-width="1.2"/><polyline points="191.3,1347.0 199.8,1347.0 208.3,1147.3 216.8,1347.0 225.2,1298.3 233.7,1347.0 242.2,1347.0 250.7,1306.3 259.1,1307.4 267.6,1347.0 276.1,1347.0 284.6,1301.5 293.0,1302.3 301.5,1300.7 310.0,1302.0 318.5,1303.1 326.9,1347.0 335.4,1302.3 343.9,1304.7 352.4,1302.0 360.8,1299.4 369.3,1290.3 377.8,1289.5 386.2,1295.1 394.7,1289.2 403.2,1293.5 411.7,1296.2 420.2,1289.5 428.6,1294.3 437.1,1287.1 445.6,1279.9 454.1,1243.2 462.5,1269.5 471.0,1254.3 479.5,1238.1 487.9,1236.5 496.4,1290.3 504.9,1298.8 513.4,1292.7 521.9,1291.4 530.3,1260.7 538.8,1192.8 547.3,1215.2 555.8,1131.3 564.2,1216.0 572.7,1286.3 581.2,1246.4 589.7,1297.8 598.1,1291.1 606.6,1283.9 615.1,1242.8 623.5,1239.6 632.0,1286.3 640.5,1225.6 649.0,1214.7 657.5,1256.3 665.9,1255.6 674.4,1259.5 682.9,1296.7 691.4,1289.8 699.8,1291.9 708.3,1207.2 716.8,1202.4 725.2,1248.0 733.7,1163.6 742.2,1158.8 750.7,1286.3 759.1,1292.4 767.6,1294.6 776.1,1295.9 784.6,1293.5 793.1,1289.8 801.5,1286.0 810.0,1281.8 818.5,1262.3 827.0,1277.5 835.4,1294.3 843.9,1278.6 852.4,1298.3 860.9,1291.9 869.3,1282.8 877.8,1283.1 886.3,1282.3 894.8,1281.5 903.2,1295.1 911.7,1285.5 920.2,1283.1 928.6,1284.4 937.1,1262.3 945.6,1279.9 954.1,1295.6 962.6,1295.6 971.0,1288.7 979.5,1283.9 988.0,1283.4 996.5,1283.1 1004.9,1289.8 1013.4,1299.1 1021.9,1265.5 1030.3,1286.3 1038.8,1232.0 1047.3,1260.7 1055.8,1295.9 1064.2,1286.3 1072.7,1290.3 1081.2,1284.7 1089.7,1284.4 1098.2,1292.4 1106.6,1294.3 1115.1,1293.0 1123.6,1292.7 1132.1,1267.9 1140.5,1287.6 1149.0,1280.7 1157.5,1238.4 1166.0,1277.5 1174.4,1278.3 1182.9,1301.5 1191.4,1294.0 1199.9,1297.2 1208.3,1291.1 1216.8,1293.0 1225.3,1281.5 1233.8,1284.7 1242.2,1251.2 1250.7,1286.3 1259.2,1287.6 1267.7,1291.1 1276.1,1296.7 1284.6,1295.1 1293.1,1291.4 1301.5,1287.9 1310.0,1228.8 1318.5,1271.9 1327.0,1220.0 1335.5,1230.4 1343.9,1287.1 1352.4,1272.7 1360.9,1291.4 1369.4,1295.1 1377.8,1293.5 1386.3,1292.7 1394.8,1291.9 1403.2,1284.7 1411.7,1283.9 1420.2,1280.2 1428.7,1282.3 1437.2,1286.3 1445.6,1296.2 1454.1,1288.7 1462.6,1287.1 1471.0,1277.5 1479.5,1287.6 1488.0,1275.9 1496.5,1266.3 1505.0,1284.4 1513.4,1278.0 1521.9,1285.5 1530.4,1292.7 1538.9,1293.5 1547.3,1283.4 1555.8,1290.8 1564.3,1255.9 1572.8,1284.4 1581.2,1275.4 1589.7,1262.7 1598.2,1291.9 1606.7,1295.6 1615.1,1297.8 1623.6,1287.6 1632.1,1271.9 1640.5,1287.6 1649.0,1283.1 1657.5,1246.4 1666.0,1281.5 1674.5,1180.9 1682.9,1290.3 1691.4,1292.4 1699.9,1293.5 1708.4,1291.4 1716.8,1289.8 1725.3,1292.7 1733.8,1293.5 1742.2,1285.0 1750.7,1287.9 1759.2,1290.8 1767.7,1288.7 1776.2,1289.8 1784.6,1292.4 1793.1,1291.1 1801.6,1284.7 1810.0,1291.9 1818.5,1292.7 1827.0,1283.1 1835.5,1253.1 1844.0,1279.1 1852.4,1247.2 1860.9,1264.7 1869.4,1283.1 1877.9,1287.6 1886.3,1287.6 1894.8,1287.6 1903.3,1291.1 1911.8,1288.7 1920.2,1275.1 1928.7,1251.2 1937.2,1281.5 1945.7,1200.0 1954.1,1271.1 1962.6,1273.5 1971.1,1295.9 1979.5,1295.6 1988.0,1291.9 1996.5,1292.7 2005.0,1271.1 2013.5,1287.6 2021.9,1284.7 2030.4,1289.2 2038.9,1291.9 2047.4,1281.8 2055.8,1296.7 2064.3,1289.5 2072.8,1298.8 2081.2,1286.0 2089.7,1292.7 2098.2,1257.2 2106.7,1264.2 2115.2,1268.7 2123.6,1222.4 2132.1,1283.9 2140.6,1289.5 2149.1,1279.9 2157.5,1286.3 2166.0,1232.0 2174.5,1291.4 2183.0,1291.9 2191.4,1291.1 2199.9,1287.9 2208.4,1299.1 2216.8,1286.3 2225.3,1282.3 2233.8,1292.7 2242.3,1292.4 2250.8,1294.3 2259.2,1255.9 2267.7,1260.4 2276.2,1271.6 2284.7,1235.2 2293.1,1285.5 2301.6,1347.0 2310.1,1347.0 2318.6,1347.0 2326.0,1300.7" fill="none" stroke="#c98ddc" stroke-width="1.2"/><rect x="132.0" y="1345.9" width="2194.0" height="1.9" fill="#9da23a"/><polyline points="191.3,1347.0 199.8,1347.0 208.3,1147.3 216.8,1347.0 225.2,1297.5 233.7,1347.0 242.2,1347.0 250.7,1296.7 259.1,1298.3 267.6,1347.0 276.1,1347.0 284.6,1291.4 293.0,1293.5 301.5,1291.4 310.0,1290.3 318.5,1294.0 326.9,1347.0 335.4,1293.0 343.9,1295.6 352.4,1293.5 360.8,1291.1 369.3,1280.7 377.8,1279.1 386.2,1287.6 394.7,1279.6 403.2,1286.3 411.7,1287.9 420.2,1279.1 428.6,1287.1 437.1,1278.3 445.6,1270.6 454.1,1235.5 462.5,1260.7 471.0,1247.2 479.5,1220.0 487.9,1228.5 496.4,1281.5 504.9,1290.8 513.4,1283.9 521.9,1282.8 530.3,1247.2 538.8,1184.9 547.3,1207.2 555.8,1125.7 564.2,1209.6 572.7,1279.9 581.2,1229.1 589.7,1289.5 598.1,1282.3 606.6,1274.8 615.1,1234.9 623.5,1231.7 632.0,1277.5 640.5,1216.8 649.0,1205.1 657.5,1248.0 665.9,1247.6 674.4,1251.9 682.9,1288.7 691.4,1280.7 699.8,1283.9 708.3,1198.1 716.8,1193.6 725.2,1240.0 733.7,1156.1 742.2,1149.2 750.7,1275.1 759.1,1283.4 767.6,1285.5 776.1,1287.6 784.6,1285.5 793.1,1282.3 801.5,1278.0 810.0,1273.5 818.5,1254.7 827.0,1269.5 835.4,1287.1 843.9,1270.3 852.4,1290.3 860.9,1282.3 869.3,1273.8 877.8,1274.8 886.3,1273.5 894.8,1272.7 903.2,1286.6 911.7,1275.9 920.2,1274.3 928.6,1275.4 937.1,1254.0 945.6,1270.6 954.1,1287.6 962.6,1286.3 971.0,1279.9 979.5,1273.8 988.0,1274.8 996.5,1274.3 1004.9,1281.2 1013.4,1290.3 1021.9,1256.3 1030.3,1275.9 1038.8,1220.5 1047.3,1253.7 1055.8,1287.1 1064.2,1277.5 1072.7,1281.2 1081.2,1275.4 1089.7,1274.8 1098.2,1283.1 1106.6,1286.0 1115.1,1285.0 1123.6,1284.4 1132.1,1259.9 1140.5,1272.7 1149.0,1272.7 1157.5,1226.9 1166.0,1269.5 1174.4,1270.3 1182.9,1292.7 1191.4,1284.7 1199.9,1287.9 1208.3,1282.3 1216.8,1284.4 1225.3,1271.6 1233.8,1275.9 1242.2,1240.8 1250.7,1276.7 1259.2,1278.3 1267.7,1282.3 1276.1,1288.2 1284.6,1287.1 1293.1,1283.9 1301.5,1279.9 1310.0,1214.4 1318.5,1264.7 1327.0,1210.9 1335.5,1221.6 1343.9,1279.6 1352.4,1265.2 1360.9,1282.8 1369.4,1286.6 1377.8,1283.4 1386.3,1283.9 1394.8,1283.4 1403.2,1275.9 1411.7,1276.4 1420.2,1271.6 1428.7,1273.5 1437.2,1278.0 1445.6,1288.2 1454.1,1280.2 1462.6,1278.3 1471.0,1269.5 1479.5,1276.4 1488.0,1266.3 1496.5,1257.2 1505.0,1276.7 1513.4,1268.7 1521.9,1276.7 1530.4,1283.9 1538.9,1283.9 1547.3,1274.3 1555.8,1282.3 1564.3,1247.6 1572.8,1275.1 1581.2,1267.9 1589.7,1255.1 1598.2,1283.1 1606.7,1288.2 1615.1,1289.5 1623.6,1279.6 1632.1,1263.9 1640.5,1279.1 1649.0,1274.3 1657.5,1234.4 1666.0,1274.3 1674.5,1155.0 1682.9,1279.9 1691.4,1282.3 1699.9,1285.0 1708.4,1282.8 1716.8,1280.7 1725.3,1282.3 1733.8,1284.7 1742.2,1270.3 1750.7,1278.3 1759.2,1283.4 1767.7,1279.1 1776.2,1281.2 1784.6,1284.4 1793.1,1282.3 1801.6,1275.9 1810.0,1283.1 1818.5,1284.4 1827.0,1274.3 1835.5,1245.6 1844.0,1270.6 1852.4,1239.6 1860.9,1257.2 1869.4,1274.8 1877.9,1279.6 1886.3,1279.1 1894.8,1278.6 1903.3,1282.8 1911.8,1280.2 1920.2,1267.4 1928.7,1243.2 1937.2,1272.7 1945.7,1188.0 1954.1,1262.0 1962.6,1264.7 1971.1,1287.9 1979.5,1287.1 1988.0,1283.4 1996.5,1285.0 2005.0,1263.1 2013.5,1278.6 2021.9,1275.4 2030.4,1280.2 2038.9,1283.4 2047.4,1272.7 2055.8,1288.2 2064.3,1280.2 2072.8,1291.9 2081.2,1276.7 2089.7,1283.9 2098.2,1248.0 2106.7,1256.3 2115.2,1261.5 2123.6,1209.6 2132.1,1275.1 2140.6,1280.7 2149.1,1269.5 2157.5,1277.5 2166.0,1207.7 2174.5,1278.3 2183.0,1275.4 2191.4,1282.8 2199.9,1279.1 2208.4,1291.1 2216.8,1279.1 2225.3,1273.2 2233.8,1284.4 2242.3,1284.4 2250.8,1286.3 2259.2,1247.2 2267.7,1251.9 2276.2,1263.6 2284.7,1224.0 2293.1,1285.5 2301.6,1347.0 2310.1,1347.0 2318.6,1347.0 2326.0,1300.7" fill="none" stroke="#000" stroke-width="3.4" stroke-linejoin="bevel"/><polyline points="132.0,1309.8 216.8,1302.3 225.2,1280.0 242.2,1280.0 250.7,1258.5 259.1,1257.6 276.1,1257.6 284.6,1235.2 310.0,1235.2 318.5,1212.9 335.4,1212.9 343.9,1199.5 352.4,1190.5 369.3,1190.5 377.8,1168.2 394.7,1168.2 403.2,1154.2 411.7,1145.8 428.6,1145.8 437.1,1123.5 2326.0,1123.5 2326.0,1347.0" fill="none" stroke="#3a73cf" stroke-width="2.6" stroke-linejoin="round"/></g><text x="130" y="1161.8" font-size="18.6" fill="#666" text-anchor="end">1.5</text><text x="130" y="1225.7" font-size="18.6" fill="#666" text-anchor="end">1</text><text x="130" y="1289.6" font-size="18.6" fill="#666" text-anchor="end">0.5</text><text x="130" y="1353.5" font-size="18.6" fill="#666" text-anchor="end">0</text><text x="2328.5" y="1168.2" font-size="18.6" fill="#666">100</text><text x="2328.5" y="1260.85" font-size="18.6" fill="#666">50</text><text x="2328.5" y="1353.5" font-size="18.6" fill="#666">0</text><text x="132.0" y="1368.0" font-size="19" fill="#666" text-anchor="middle">0(s)</text><text x="471.0" y="1368.0" font-size="19" fill="#666" text-anchor="middle">200(s)</text><text x="810.0" y="1368.0" font-size="19" fill="#666" text-anchor="middle">400(s)</text><text x="1149.0" y="1368.0" font-size="19" fill="#666" text-anchor="middle">600(s)</text><text x="1488.0" y="1368.0" font-size="19" fill="#666" text-anchor="middle">800(s)</text><text x="1827.0" y="1368.0" font-size="19" fill="#666" text-anchor="middle">1000(s)</text><text x="2166.0" y="1368.0" font-size="19" fill="#666" text-anchor="middle">1200(s)</text><text transform="translate(71,1230) rotate(-90)" font-size="22" fill="#666" text-anchor="middle">Time (sec)</text><text transform="translate(2398,1230) rotate(-90)" font-size="22" fill="#666" text-anchor="middle">Virtual Users</text><rect x="140" y="1393.0" width="48" height="3" fill="#000"/><text x="196" y="1400.9" font-size="17.65" fill="#666">Total</text><rect x="249" y="1390.1" width="48" height="10.5" fill="#fbeccb"/><rect x="249" y="1390.1" width="48" height="1.2" fill="#f7d9a0"/><text x="305" y="1400.9" font-size="17.65" fill="#666">Redirect Time</text><rect x="430" y="1390.1" width="48" height="10.5" fill="#cfc3e8"/><rect x="430" y="1390.1" width="48" height="1.2" fill="#a893d6"/><text x="486" y="1400.9" font-size="17.65" fill="#666">DNS Time</text><rect x="582" y="1390.1" width="48" height="10.5" fill="#cfe2cc"/><rect x="582" y="1390.1" width="48" height="1.2" fill="#a3c79e"/><text x="638" y="1400.9" font-size="17.65" fill="#666">Connect Time</text><rect x="763" y="1390.1" width="48" height="10.5" fill="#f9d3c3"/><rect x="763" y="1390.1" width="48" height="1.2" fill="#f3a88a"/><text x="819" y="1400.9" font-size="17.65" fill="#666">First Byte Time</text><rect x="953" y="1390.1" width="48" height="10.5" fill="#eed7f2"/><rect x="953" y="1390.1" width="48" height="1.2" fill="#dcaee6"/><text x="1009" y="1400.9" font-size="17.65" fill="#666">Response Time</text><rect x="1147" y="1390.1" width="48" height="10.5" fill="#d6e7fa"/><rect x="1147" y="1390.1" width="48" height="1.2" fill="#a9cdf5"/><text x="1203" y="1400.9" font-size="17.65" fill="#666">DOM Load Time</text><rect x="1348" y="1390.1" width="48" height="10.5" fill="#eff2c8"/><rect x="1348" y="1390.1" width="48" height="1.2" fill="#dde389"/><text x="1404" y="1400.9" font-size="17.65" fill="#666">Event Time</text><rect x="1508" y="1393.0" width="48" height="3" fill="#3a73cf"/><text x="1564" y="1400.9" font-size="17.65" fill="#666">Virtual Users</text></svg><svg class="a" style="left:1349px;top:1049.8px" width="24" height="24" viewBox="-12 -12 24 24"><circle r="11" fill="#4f93b0"/><g transform="scale(1.0)" fill="#fff"><circle cx="0" cy="-5.6" r="1.9"/><path d="M-3.6 -2.2 H1.9 V5 H3.6 V7 H-3.6 V5 H-1.9 V-0.2 H-3.6 Z"/></g></svg>
</body></html>
